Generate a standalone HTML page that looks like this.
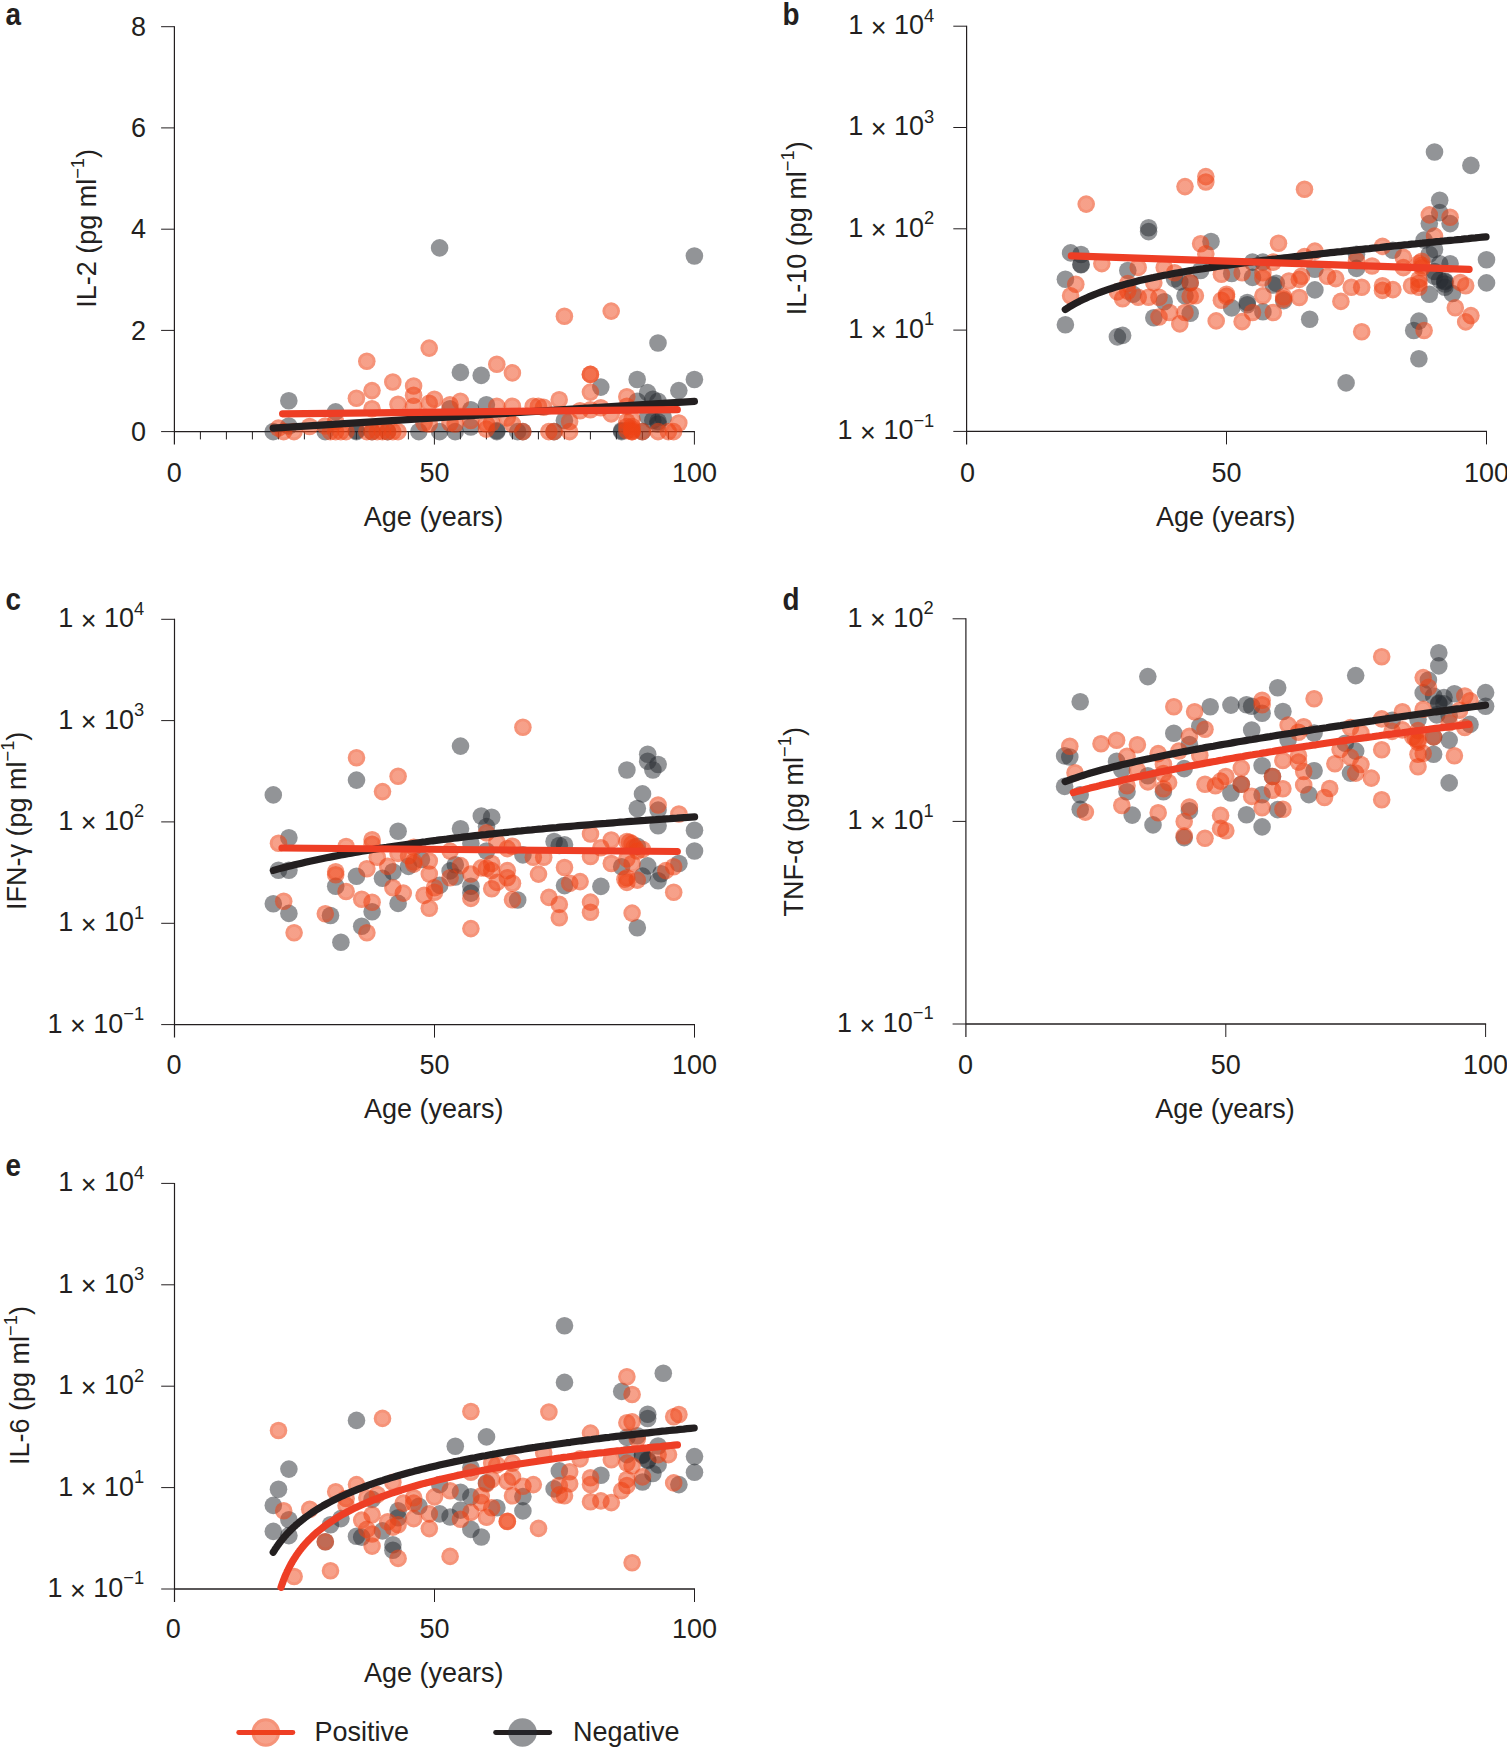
<!DOCTYPE html>
<html lang="en"><head><meta charset="utf-8"><title>Figure</title>
<style>html,body{margin:0;padding:0;background:#fff}svg{display:block}</style></head>
<body>
<svg width="1507" height="1747" viewBox="0 0 1507 1747" style="display:block">
<rect width="1507" height="1747" fill="#fff"/>
<defs><radialGradient id="og" cx="0.5" cy="0.5" r="0.5"><stop offset="0" stop-color="rgb(238,66,20)" stop-opacity="0.5"/><stop offset="0.62" stop-color="rgb(238,66,20)" stop-opacity="0.5"/><stop offset="0.70" stop-color="rgb(238,66,20)" stop-opacity="0.57"/><stop offset="1" stop-color="rgb(238,66,20)" stop-opacity="0.57"/></radialGradient><radialGradient id="og2" cx="0.5" cy="0.5" r="0.5"><stop offset="0" stop-color="rgb(238,66,20)" stop-opacity="0.5"/><stop offset="0.75" stop-color="rgb(238,66,20)" stop-opacity="0.5"/><stop offset="0.80" stop-color="rgb(238,66,20)" stop-opacity="0.57"/><stop offset="1" stop-color="rgb(238,66,20)" stop-opacity="0.57"/></radialGradient></defs>
<g font-family='"Liberation Sans", sans-serif' font-size="28.0" fill="#231f20">
<g stroke="#231f20" stroke-width="1" fill="none">
<path d="M174.4 26.2 V444.6" stroke-width="1.2"/>
<path d="M174.4 431.6 H694.9" stroke-width="1.4"/>
<path d="M161.1 431.6 H174.4"/>
<path d="M161.1 26.7 H174.4"/>
<path d="M161.1 127.9 H174.4"/>
<path d="M161.1 229.2 H174.4"/>
<path d="M161.1 330.4 H174.4"/>
<path d="M434.4 431.6 V444.6"/>
<path d="M694.4 431.6 V444.6"/>
<path d="M200.4 431.6 V439.4"/>
<path d="M226.4 431.6 V439.4"/>
<path d="M252.4 431.6 V439.4"/>
<path d="M278.4 431.6 V439.4"/>
<path d="M304.4 431.6 V439.4"/>
<path d="M330.4 431.6 V439.4"/>
<path d="M356.4 431.6 V439.4"/>
<path d="M382.4 431.6 V439.4"/>
<path d="M408.4 431.6 V439.4"/>
<path d="M460.4 431.6 V439.4"/>
<path d="M486.4 431.6 V439.4"/>
<path d="M512.4 431.6 V439.4"/>
<path d="M538.4 431.6 V439.4"/>
<path d="M564.4 431.6 V439.4"/>
<path d="M590.4 431.6 V439.4"/>
<path d="M616.4 431.6 V439.4"/>
<path d="M642.4 431.6 V439.4"/>
<path d="M668.4 431.6 V439.4"/>
</g>
<text transform="translate(174.2 482.4) scale(0.964 1)" text-anchor="middle">0</text>
<text transform="translate(434.4 482.4) scale(0.964 1)" text-anchor="middle">50</text>
<text transform="translate(694.4 482.4) scale(0.964 1)" text-anchor="middle">100</text>
<text transform="translate(433.6 526.2) scale(0.964 1)" text-anchor="middle">Age (years)</text>
<text transform="translate(146.1 35.9) scale(0.964 1)" text-anchor="end">8</text>
<text transform="translate(146.1 137.1) scale(0.964 1)" text-anchor="end">6</text>
<text transform="translate(146.1 238.3) scale(0.964 1)" text-anchor="end">4</text>
<text transform="translate(146.1 339.6) scale(0.964 1)" text-anchor="end">2</text>
<text transform="translate(146.1 440.8) scale(0.964 1)" text-anchor="end">0</text>
<text transform="translate(96.2 228.4) rotate(-90) scale(0.964 1)" text-anchor="middle">IL-2 (pg ml<tspan font-size="19.0" dy="-12">−1</tspan><tspan dy="12">)</tspan></text>
<text transform="translate(5.5 24.5) scale(0.87 1)" font-weight="bold" font-size="32">a</text>
<g>
<circle cx="439.6" cy="247.9" r="8.8" fill="rgb(38,42,48)" fill-opacity="0.5"/>
<circle cx="694.4" cy="256" r="8.8" fill="rgb(38,42,48)" fill-opacity="0.5"/>
<circle cx="658" cy="343" r="8.8" fill="rgb(38,42,48)" fill-opacity="0.5"/>
<circle cx="460.4" cy="372.4" r="8.8" fill="rgb(38,42,48)" fill-opacity="0.5"/>
<circle cx="481.2" cy="375.4" r="8.8" fill="rgb(38,42,48)" fill-opacity="0.5"/>
<circle cx="600.8" cy="387.1" r="8.8" fill="rgb(38,42,48)" fill-opacity="0.5"/>
<circle cx="637.2" cy="379.5" r="8.8" fill="rgb(38,42,48)" fill-opacity="0.5"/>
<circle cx="694.4" cy="379.5" r="8.8" fill="rgb(38,42,48)" fill-opacity="0.5"/>
<circle cx="678.8" cy="390.6" r="8.8" fill="rgb(38,42,48)" fill-opacity="0.5"/>
<circle cx="647.6" cy="392.6" r="8.8" fill="rgb(38,42,48)" fill-opacity="0.5"/>
<circle cx="288.8" cy="400.7" r="8.8" fill="rgb(38,42,48)" fill-opacity="0.5"/>
<circle cx="335.6" cy="411.9" r="8.8" fill="rgb(38,42,48)" fill-opacity="0.5"/>
<circle cx="288.8" cy="426" r="8.8" fill="rgb(38,42,48)" fill-opacity="0.5"/>
<circle cx="273.2" cy="431.6" r="8.8" fill="rgb(38,42,48)" fill-opacity="0.5"/>
<circle cx="325.2" cy="431.6" r="8.8" fill="rgb(38,42,48)" fill-opacity="0.5"/>
<circle cx="356.4" cy="431.6" r="8.8" fill="rgb(38,42,48)" fill-opacity="0.5"/>
<circle cx="356.4" cy="430.6" r="8.8" fill="rgb(38,42,48)" fill-opacity="0.5"/>
<circle cx="372" cy="431.6" r="8.8" fill="rgb(38,42,48)" fill-opacity="0.5"/>
<circle cx="418.8" cy="431.6" r="8.8" fill="rgb(38,42,48)" fill-opacity="0.5"/>
<circle cx="439.6" cy="431.6" r="8.8" fill="rgb(38,42,48)" fill-opacity="0.5"/>
<circle cx="455.2" cy="431.6" r="8.8" fill="rgb(38,42,48)" fill-opacity="0.5"/>
<circle cx="470.8" cy="427" r="8.8" fill="rgb(38,42,48)" fill-opacity="0.5"/>
<circle cx="496.8" cy="431.6" r="8.8" fill="rgb(38,42,48)" fill-opacity="0.5"/>
<circle cx="496.8" cy="430.6" r="8.8" fill="rgb(38,42,48)" fill-opacity="0.5"/>
<circle cx="517.6" cy="431.6" r="8.8" fill="rgb(38,42,48)" fill-opacity="0.5"/>
<circle cx="486.4" cy="404.8" r="8.8" fill="rgb(38,42,48)" fill-opacity="0.5"/>
<circle cx="450" cy="408.8" r="8.8" fill="rgb(38,42,48)" fill-opacity="0.5"/>
<circle cx="470.8" cy="409.8" r="8.8" fill="rgb(38,42,48)" fill-opacity="0.5"/>
<circle cx="637.2" cy="401.2" r="8.8" fill="rgb(38,42,48)" fill-opacity="0.5"/>
<circle cx="652.8" cy="399.2" r="8.8" fill="rgb(38,42,48)" fill-opacity="0.5"/>
<circle cx="658" cy="401.2" r="8.8" fill="rgb(38,42,48)" fill-opacity="0.5"/>
<circle cx="658" cy="421.5" r="8.8" fill="rgb(38,42,48)" fill-opacity="0.5"/>
<circle cx="652.8" cy="420.5" r="8.8" fill="rgb(38,42,48)" fill-opacity="0.5"/>
<circle cx="658" cy="424" r="8.8" fill="rgb(38,42,48)" fill-opacity="0.5"/>
<circle cx="663.2" cy="417.4" r="8.8" fill="rgb(38,42,48)" fill-opacity="0.5"/>
<circle cx="647.6" cy="416.4" r="8.8" fill="rgb(38,42,48)" fill-opacity="0.5"/>
<circle cx="621.6" cy="431.6" r="8.8" fill="rgb(38,42,48)" fill-opacity="0.5"/>
<circle cx="621.6" cy="430.6" r="8.8" fill="rgb(38,42,48)" fill-opacity="0.5"/>
<circle cx="564.4" cy="420.5" r="8.8" fill="rgb(38,42,48)" fill-opacity="0.5"/>
<circle cx="554" cy="431.6" r="8.8" fill="rgb(38,42,48)" fill-opacity="0.5"/>
<circle cx="642.4" cy="431.6" r="8.8" fill="rgb(38,42,48)" fill-opacity="0.5"/>
<circle cx="522.8" cy="431.6" r="8.8" fill="rgb(38,42,48)" fill-opacity="0.5"/>
<circle cx="387.6" cy="431.6" r="8.8" fill="rgb(38,42,48)" fill-opacity="0.5"/>
<circle cx="564.4" cy="316.2" r="8.8" fill="url(#og)"/>
<circle cx="611.2" cy="311.1" r="8.8" fill="url(#og)"/>
<circle cx="429.2" cy="348.1" r="8.8" fill="url(#og)"/>
<circle cx="366.8" cy="361.2" r="8.8" fill="url(#og)"/>
<circle cx="496.8" cy="364.3" r="8.8" fill="url(#og)"/>
<circle cx="512.4" cy="372.9" r="8.8" fill="url(#og)"/>
<circle cx="590.4" cy="374.4" r="8.8" fill="url(#og)"/>
<circle cx="590.4" cy="374.4" r="8.8" fill="url(#og)"/>
<circle cx="590.4" cy="392.1" r="8.8" fill="url(#og)"/>
<circle cx="559.2" cy="399.7" r="8.8" fill="url(#og)"/>
<circle cx="626.8" cy="396.7" r="8.8" fill="url(#og)"/>
<circle cx="356.4" cy="398.2" r="8.8" fill="url(#og)"/>
<circle cx="372" cy="390.6" r="8.8" fill="url(#og)"/>
<circle cx="392.8" cy="382" r="8.8" fill="url(#og)"/>
<circle cx="372" cy="408.8" r="8.8" fill="url(#og)"/>
<circle cx="398" cy="404.3" r="8.8" fill="url(#og)"/>
<circle cx="413.6" cy="386" r="8.8" fill="url(#og)"/>
<circle cx="413.6" cy="395.2" r="8.8" fill="url(#og)"/>
<circle cx="413.6" cy="406.3" r="8.8" fill="url(#og)"/>
<circle cx="434.4" cy="399.2" r="8.8" fill="url(#og)"/>
<circle cx="429.2" cy="403.3" r="8.8" fill="url(#og)"/>
<circle cx="450" cy="404.8" r="8.8" fill="url(#og)"/>
<circle cx="460.4" cy="401.2" r="8.8" fill="url(#og)"/>
<circle cx="496.8" cy="406.3" r="8.8" fill="url(#og)"/>
<circle cx="512.4" cy="406.3" r="8.8" fill="url(#og)"/>
<circle cx="533.2" cy="406.3" r="8.8" fill="url(#og)"/>
<circle cx="538.4" cy="406.3" r="8.8" fill="url(#og)"/>
<circle cx="543.6" cy="407.3" r="8.8" fill="url(#og)"/>
<circle cx="580" cy="410.8" r="8.8" fill="url(#og)"/>
<circle cx="590.4" cy="409.8" r="8.8" fill="url(#og)"/>
<circle cx="600.8" cy="407.8" r="8.8" fill="url(#og)"/>
<circle cx="611.2" cy="413.9" r="8.8" fill="url(#og)"/>
<circle cx="626.8" cy="406.3" r="8.8" fill="url(#og)"/>
<circle cx="678.8" cy="423" r="8.8" fill="url(#og)"/>
<circle cx="569.6" cy="431.6" r="8.8" fill="url(#og)"/>
<circle cx="569.6" cy="421.5" r="8.8" fill="url(#og)"/>
<circle cx="632" cy="431.6" r="8.8" fill="url(#og)"/>
<circle cx="632" cy="430.6" r="8.8" fill="url(#og)"/>
<circle cx="632" cy="431.6" r="8.8" fill="url(#og)"/>
<circle cx="626.8" cy="421.5" r="8.8" fill="url(#og)"/>
<circle cx="632" cy="419.5" r="8.8" fill="url(#og)"/>
<circle cx="658" cy="431.6" r="8.8" fill="url(#og)"/>
<circle cx="668.4" cy="431.6" r="8.8" fill="url(#og)"/>
<circle cx="673.6" cy="431.6" r="8.8" fill="url(#og)"/>
<circle cx="642.4" cy="431.6" r="8.8" fill="url(#og)"/>
<circle cx="278.4" cy="428.1" r="8.8" fill="url(#og)"/>
<circle cx="283.6" cy="431.6" r="8.8" fill="url(#og)"/>
<circle cx="294" cy="431.6" r="8.8" fill="url(#og)"/>
<circle cx="309.6" cy="426.5" r="8.8" fill="url(#og)"/>
<circle cx="325.2" cy="426" r="8.8" fill="url(#og)"/>
<circle cx="330.4" cy="431.6" r="8.8" fill="url(#og)"/>
<circle cx="335.6" cy="431.6" r="8.8" fill="url(#og)"/>
<circle cx="340.8" cy="431.6" r="8.8" fill="url(#og)"/>
<circle cx="346" cy="431.6" r="8.8" fill="url(#og)"/>
<circle cx="335.6" cy="421.5" r="8.8" fill="url(#og)"/>
<circle cx="366.8" cy="431.6" r="8.8" fill="url(#og)"/>
<circle cx="372" cy="431.6" r="8.8" fill="url(#og)"/>
<circle cx="377.2" cy="431.6" r="8.8" fill="url(#og)"/>
<circle cx="382.4" cy="431.6" r="8.8" fill="url(#og)"/>
<circle cx="387.6" cy="431.6" r="8.8" fill="url(#og)"/>
<circle cx="392.8" cy="431.6" r="8.8" fill="url(#og)"/>
<circle cx="398" cy="431.6" r="8.8" fill="url(#og)"/>
<circle cx="424" cy="423" r="8.8" fill="url(#og)"/>
<circle cx="429.2" cy="424" r="8.8" fill="url(#og)"/>
<circle cx="450" cy="423" r="8.8" fill="url(#og)"/>
<circle cx="455.2" cy="424" r="8.8" fill="url(#og)"/>
<circle cx="470.8" cy="420.5" r="8.8" fill="url(#og)"/>
<circle cx="486.4" cy="424" r="8.8" fill="url(#og)"/>
<circle cx="486.4" cy="429.1" r="8.8" fill="url(#og)"/>
<circle cx="491.6" cy="423" r="8.8" fill="url(#og)"/>
<circle cx="507.2" cy="417.9" r="8.8" fill="url(#og)"/>
<circle cx="512.4" cy="424" r="8.8" fill="url(#og)"/>
<circle cx="522.8" cy="431.6" r="8.8" fill="url(#og)"/>
<circle cx="548.8" cy="431.6" r="8.8" fill="url(#og)"/>
<circle cx="554" cy="431.6" r="8.8" fill="url(#og)"/>
<circle cx="632" cy="429.1" r="8.8" fill="url(#og)"/>
<circle cx="632" cy="426.5" r="8.8" fill="url(#og)"/>
<circle cx="626.8" cy="426.5" r="8.8" fill="url(#og)"/>
<circle cx="626.8" cy="430.6" r="8.8" fill="url(#og)"/>
</g>
<clipPath id="cla"><rect x="0" y="6.7" width="1507" height="430.9"/></clipPath>
<path d="M273.2 428.1 L694.4 401.4" fill="none" stroke="#231f20" stroke-width="7.2" stroke-linecap="round" stroke-linejoin="round" clip-path="url(#cla)"/>
<path d="M282.6 413.8 L677.3 409.7" fill="none" stroke="#ee3e25" stroke-width="7.2" stroke-linecap="round" stroke-linejoin="round" clip-path="url(#cla)"/>
<g stroke="#231f20" stroke-width="1" fill="none">
<path d="M966.6 25.7 V444.4" stroke-width="1.2"/>
<path d="M966.6 431.4 H1487" stroke-width="1.4"/>
<path d="M953.3 431.4 H966.6"/>
<path d="M953.3 26.2 H966.6"/>
<path d="M953.3 127.5 H966.6"/>
<path d="M953.3 228.8 H966.6"/>
<path d="M953.3 330.1 H966.6"/>
<path d="M1226.5 431.4 V444.4"/>
<path d="M1486.5 431.4 V444.4"/>
</g>
<text transform="translate(967.4 482.4) scale(0.964 1)" text-anchor="middle">0</text>
<text transform="translate(1226.5 482.4) scale(0.964 1)" text-anchor="middle">50</text>
<text transform="translate(1486.5 482.4) scale(0.964 1)" text-anchor="middle">100</text>
<text transform="translate(1225.8 526.2) scale(0.964 1)" text-anchor="middle">Age (years)</text>
<text transform="translate(934.3 34.1) scale(0.964 1)" text-anchor="end">1 <tspan dy="2.6">×</tspan><tspan dy="-2.6"> 10</tspan><tspan font-size="19.0" dy="-12.6">4</tspan></text>
<text transform="translate(934.3 135.4) scale(0.964 1)" text-anchor="end">1 <tspan dy="2.6">×</tspan><tspan dy="-2.6"> 10</tspan><tspan font-size="19.0" dy="-12.6">3</tspan></text>
<text transform="translate(934.3 236.7) scale(0.964 1)" text-anchor="end">1 <tspan dy="2.6">×</tspan><tspan dy="-2.6"> 10</tspan><tspan font-size="19.0" dy="-12.6">2</tspan></text>
<text transform="translate(934.3 338) scale(0.964 1)" text-anchor="end">1 <tspan dy="2.6">×</tspan><tspan dy="-2.6"> 10</tspan><tspan font-size="19.0" dy="-12.6">1</tspan></text>
<text transform="translate(934.3 439.3) scale(0.964 1)" text-anchor="end">1 <tspan dy="2.6">×</tspan><tspan dy="-2.6"> 10</tspan><tspan font-size="19.0" dy="-12.6">−1</tspan></text>
<text transform="translate(806.1 228.2) rotate(-90) scale(0.964 1)" text-anchor="middle">IL-10 (pg ml<tspan font-size="19.0" dy="-12">−1</tspan><tspan dy="12">)</tspan></text>
<text transform="translate(782.5 24.5) scale(0.87 1)" font-weight="bold" font-size="32">b</text>
<g>
<circle cx="1070.6" cy="252.9" r="8.8" fill="rgb(38,42,48)" fill-opacity="0.5"/>
<circle cx="1081" cy="254.5" r="8.8" fill="rgb(38,42,48)" fill-opacity="0.5"/>
<circle cx="1081" cy="264.4" r="8.8" fill="rgb(38,42,48)" fill-opacity="0.5"/>
<circle cx="1081" cy="264.8" r="8.8" fill="rgb(38,42,48)" fill-opacity="0.5"/>
<circle cx="1065.4" cy="279.2" r="8.8" fill="rgb(38,42,48)" fill-opacity="0.5"/>
<circle cx="1065.4" cy="324.7" r="8.8" fill="rgb(38,42,48)" fill-opacity="0.5"/>
<circle cx="1117.4" cy="336.9" r="8.8" fill="rgb(38,42,48)" fill-opacity="0.5"/>
<circle cx="1122.6" cy="335.4" r="8.8" fill="rgb(38,42,48)" fill-opacity="0.5"/>
<circle cx="1148.6" cy="227.8" r="8.8" fill="rgb(38,42,48)" fill-opacity="0.5"/>
<circle cx="1148.6" cy="231.6" r="8.8" fill="rgb(38,42,48)" fill-opacity="0.5"/>
<circle cx="1211" cy="241.5" r="8.8" fill="rgb(38,42,48)" fill-opacity="0.5"/>
<circle cx="1127.8" cy="270.5" r="8.8" fill="rgb(38,42,48)" fill-opacity="0.5"/>
<circle cx="1200.6" cy="270.5" r="8.8" fill="rgb(38,42,48)" fill-opacity="0.5"/>
<circle cx="1174.6" cy="278.9" r="8.8" fill="rgb(38,42,48)" fill-opacity="0.5"/>
<circle cx="1179.8" cy="281.9" r="8.8" fill="rgb(38,42,48)" fill-opacity="0.5"/>
<circle cx="1190.2" cy="282.7" r="8.8" fill="rgb(38,42,48)" fill-opacity="0.5"/>
<circle cx="1185" cy="295.7" r="8.8" fill="rgb(38,42,48)" fill-opacity="0.5"/>
<circle cx="1164.2" cy="301.8" r="8.8" fill="rgb(38,42,48)" fill-opacity="0.5"/>
<circle cx="1133" cy="294.2" r="8.8" fill="rgb(38,42,48)" fill-opacity="0.5"/>
<circle cx="1153.8" cy="317.8" r="8.8" fill="rgb(38,42,48)" fill-opacity="0.5"/>
<circle cx="1190.2" cy="313.2" r="8.8" fill="rgb(38,42,48)" fill-opacity="0.5"/>
<circle cx="1231.7" cy="273.5" r="8.8" fill="rgb(38,42,48)" fill-opacity="0.5"/>
<circle cx="1231.7" cy="307.9" r="8.8" fill="rgb(38,42,48)" fill-opacity="0.5"/>
<circle cx="1247.3" cy="302.5" r="8.8" fill="rgb(38,42,48)" fill-opacity="0.5"/>
<circle cx="1247.3" cy="304.8" r="8.8" fill="rgb(38,42,48)" fill-opacity="0.5"/>
<circle cx="1252.5" cy="277.4" r="8.8" fill="rgb(38,42,48)" fill-opacity="0.5"/>
<circle cx="1262.9" cy="311.7" r="8.8" fill="rgb(38,42,48)" fill-opacity="0.5"/>
<circle cx="1252.5" cy="262.1" r="8.8" fill="rgb(38,42,48)" fill-opacity="0.5"/>
<circle cx="1262.9" cy="262.1" r="8.8" fill="rgb(38,42,48)" fill-opacity="0.5"/>
<circle cx="1273.3" cy="285" r="8.8" fill="rgb(38,42,48)" fill-opacity="0.5"/>
<circle cx="1434.5" cy="152" r="8.8" fill="rgb(38,42,48)" fill-opacity="0.5"/>
<circle cx="1470.9" cy="165.4" r="8.8" fill="rgb(38,42,48)" fill-opacity="0.5"/>
<circle cx="1439.7" cy="200.3" r="8.8" fill="rgb(38,42,48)" fill-opacity="0.5"/>
<circle cx="1439.7" cy="212.6" r="8.8" fill="rgb(38,42,48)" fill-opacity="0.5"/>
<circle cx="1429.3" cy="223.6" r="8.8" fill="rgb(38,42,48)" fill-opacity="0.5"/>
<circle cx="1450.1" cy="223.6" r="8.8" fill="rgb(38,42,48)" fill-opacity="0.5"/>
<circle cx="1424.1" cy="240.1" r="8.8" fill="rgb(38,42,48)" fill-opacity="0.5"/>
<circle cx="1434.5" cy="249.5" r="8.8" fill="rgb(38,42,48)" fill-opacity="0.5"/>
<circle cx="1429.3" cy="254.2" r="8.8" fill="rgb(38,42,48)" fill-opacity="0.5"/>
<circle cx="1450.1" cy="263.7" r="8.8" fill="rgb(38,42,48)" fill-opacity="0.5"/>
<circle cx="1439.7" cy="263.7" r="8.8" fill="rgb(38,42,48)" fill-opacity="0.5"/>
<circle cx="1486.5" cy="259.7" r="8.8" fill="rgb(38,42,48)" fill-opacity="0.5"/>
<circle cx="1486.5" cy="282.9" r="8.8" fill="rgb(38,42,48)" fill-opacity="0.5"/>
<circle cx="1434.5" cy="271.5" r="8.8" fill="rgb(38,42,48)" fill-opacity="0.5"/>
<circle cx="1444.9" cy="281" r="8.8" fill="rgb(38,42,48)" fill-opacity="0.5"/>
<circle cx="1444.9" cy="281.8" r="8.8" fill="rgb(38,42,48)" fill-opacity="0.5"/>
<circle cx="1444.9" cy="287.3" r="8.8" fill="rgb(38,42,48)" fill-opacity="0.5"/>
<circle cx="1452.4" cy="293.5" r="8.8" fill="rgb(38,42,48)" fill-opacity="0.5"/>
<circle cx="1429.3" cy="294.3" r="8.8" fill="rgb(38,42,48)" fill-opacity="0.5"/>
<circle cx="1434.5" cy="276.2" r="8.8" fill="rgb(38,42,48)" fill-opacity="0.5"/>
<circle cx="1418.9" cy="321.1" r="8.8" fill="rgb(38,42,48)" fill-opacity="0.5"/>
<circle cx="1413.7" cy="330.5" r="8.8" fill="rgb(38,42,48)" fill-opacity="0.5"/>
<circle cx="1418.9" cy="358.8" r="8.8" fill="rgb(38,42,48)" fill-opacity="0.5"/>
<circle cx="1346.1" cy="382.9" r="8.8" fill="rgb(38,42,48)" fill-opacity="0.5"/>
<circle cx="1309.7" cy="319.2" r="8.8" fill="rgb(38,42,48)" fill-opacity="0.5"/>
<circle cx="1314.9" cy="289.9" r="8.8" fill="rgb(38,42,48)" fill-opacity="0.5"/>
<circle cx="1356.5" cy="254.2" r="8.8" fill="rgb(38,42,48)" fill-opacity="0.5"/>
<circle cx="1356.5" cy="268.4" r="8.8" fill="rgb(38,42,48)" fill-opacity="0.5"/>
<circle cx="1392.9" cy="250.3" r="8.8" fill="rgb(38,42,48)" fill-opacity="0.5"/>
<circle cx="1314.9" cy="269.2" r="8.8" fill="rgb(38,42,48)" fill-opacity="0.5"/>
<circle cx="1276.3" cy="283.3" r="8.8" fill="rgb(38,42,48)" fill-opacity="0.5"/>
<circle cx="1283.7" cy="300.6" r="8.8" fill="rgb(38,42,48)" fill-opacity="0.5"/>
<circle cx="1444.9" cy="284" r="8.8" fill="rgb(38,42,48)" fill-opacity="0.5"/>
<circle cx="1439.7" cy="280" r="8.8" fill="rgb(38,42,48)" fill-opacity="0.5"/>
<circle cx="1086.2" cy="204.1" r="8.8" fill="url(#og)"/>
<circle cx="1185" cy="186.6" r="8.8" fill="url(#og)"/>
<circle cx="1205.8" cy="176.6" r="8.8" fill="url(#og)"/>
<circle cx="1205.8" cy="182" r="8.8" fill="url(#og)"/>
<circle cx="1200.6" cy="243.8" r="8.8" fill="url(#og)"/>
<circle cx="1205.8" cy="253.7" r="8.8" fill="url(#og)"/>
<circle cx="1101.8" cy="263.6" r="8.8" fill="url(#og)"/>
<circle cx="1138.2" cy="267.4" r="8.8" fill="url(#og)"/>
<circle cx="1164.2" cy="267.4" r="8.8" fill="url(#og)"/>
<circle cx="1174.6" cy="272.8" r="8.8" fill="url(#og)"/>
<circle cx="1075.8" cy="284.2" r="8.8" fill="url(#og)"/>
<circle cx="1070.6" cy="295.7" r="8.8" fill="url(#og)"/>
<circle cx="1127.8" cy="283.5" r="8.8" fill="url(#og)"/>
<circle cx="1153.8" cy="282.7" r="8.8" fill="url(#og)"/>
<circle cx="1117.4" cy="291.9" r="8.8" fill="url(#og)"/>
<circle cx="1127.8" cy="291.1" r="8.8" fill="url(#og)"/>
<circle cx="1122.6" cy="298.7" r="8.8" fill="url(#og)"/>
<circle cx="1138.2" cy="297.2" r="8.8" fill="url(#og)"/>
<circle cx="1148.6" cy="297.2" r="8.8" fill="url(#og)"/>
<circle cx="1159" cy="297.2" r="8.8" fill="url(#og)"/>
<circle cx="1169.4" cy="312.5" r="8.8" fill="url(#og)"/>
<circle cx="1159" cy="317" r="8.8" fill="url(#og)"/>
<circle cx="1179.8" cy="323.9" r="8.8" fill="url(#og)"/>
<circle cx="1185" cy="312.5" r="8.8" fill="url(#og)"/>
<circle cx="1190.2" cy="282.7" r="8.8" fill="url(#og)"/>
<circle cx="1195.4" cy="295.7" r="8.8" fill="url(#og)"/>
<circle cx="1190.2" cy="296.4" r="8.8" fill="url(#og)"/>
<circle cx="1221.4" cy="274.3" r="8.8" fill="url(#og)"/>
<circle cx="1242.1" cy="272.8" r="8.8" fill="url(#og)"/>
<circle cx="1226.5" cy="294.2" r="8.8" fill="url(#og)"/>
<circle cx="1221.4" cy="300.3" r="8.8" fill="url(#og)"/>
<circle cx="1226.5" cy="296.4" r="8.8" fill="url(#og)"/>
<circle cx="1216.2" cy="320.9" r="8.8" fill="url(#og)"/>
<circle cx="1242.1" cy="321.6" r="8.8" fill="url(#og)"/>
<circle cx="1252.5" cy="312.5" r="8.8" fill="url(#og)"/>
<circle cx="1262.9" cy="278.1" r="8.8" fill="url(#og)"/>
<circle cx="1262.9" cy="295.7" r="8.8" fill="url(#og)"/>
<circle cx="1273.3" cy="312.5" r="8.8" fill="url(#og)"/>
<circle cx="1273.3" cy="262.1" r="8.8" fill="url(#og)"/>
<circle cx="1262.9" cy="272.8" r="8.8" fill="url(#og)"/>
<circle cx="1304.5" cy="189.3" r="8.8" fill="url(#og)"/>
<circle cx="1429.3" cy="214.9" r="8.8" fill="url(#og)"/>
<circle cx="1450.1" cy="217.3" r="8.8" fill="url(#og)"/>
<circle cx="1434.5" cy="236.1" r="8.8" fill="url(#og)"/>
<circle cx="1278.5" cy="243.2" r="8.8" fill="url(#og)"/>
<circle cx="1314.9" cy="251.1" r="8.8" fill="url(#og)"/>
<circle cx="1304.5" cy="256.6" r="8.8" fill="url(#og)"/>
<circle cx="1382.5" cy="246.4" r="8.8" fill="url(#og)"/>
<circle cx="1403.3" cy="257.4" r="8.8" fill="url(#og)"/>
<circle cx="1356.5" cy="260.5" r="8.8" fill="url(#og)"/>
<circle cx="1372.1" cy="266" r="8.8" fill="url(#og)"/>
<circle cx="1403.3" cy="267.6" r="8.8" fill="url(#og)"/>
<circle cx="1421.8" cy="261.3" r="8.8" fill="url(#og)"/>
<circle cx="1421.8" cy="265.2" r="8.8" fill="url(#og)"/>
<circle cx="1418.9" cy="279.4" r="8.8" fill="url(#og)"/>
<circle cx="1418.9" cy="287.3" r="8.8" fill="url(#og)"/>
<circle cx="1411.5" cy="285.7" r="8.8" fill="url(#og)"/>
<circle cx="1460.5" cy="282.5" r="8.8" fill="url(#og)"/>
<circle cx="1465.7" cy="285.7" r="8.8" fill="url(#og)"/>
<circle cx="1455.3" cy="307.7" r="8.8" fill="url(#og)"/>
<circle cx="1470.9" cy="315.6" r="8.8" fill="url(#og)"/>
<circle cx="1465.7" cy="321.9" r="8.8" fill="url(#og)"/>
<circle cx="1424.1" cy="330.5" r="8.8" fill="url(#og)"/>
<circle cx="1361.7" cy="331.8" r="8.8" fill="url(#og)"/>
<circle cx="1340.9" cy="301.4" r="8.8" fill="url(#og)"/>
<circle cx="1351.3" cy="287.3" r="8.8" fill="url(#og)"/>
<circle cx="1361.7" cy="287.3" r="8.8" fill="url(#og)"/>
<circle cx="1382.5" cy="285.7" r="8.8" fill="url(#og)"/>
<circle cx="1382.5" cy="290.4" r="8.8" fill="url(#og)"/>
<circle cx="1392.9" cy="289.6" r="8.8" fill="url(#og)"/>
<circle cx="1335.7" cy="278.6" r="8.8" fill="url(#og)"/>
<circle cx="1327.4" cy="276.2" r="8.8" fill="url(#og)"/>
<circle cx="1301.5" cy="276.2" r="8.8" fill="url(#og)"/>
<circle cx="1299.3" cy="279.4" r="8.8" fill="url(#og)"/>
<circle cx="1288.9" cy="281" r="8.8" fill="url(#og)"/>
<circle cx="1299.3" cy="297.5" r="8.8" fill="url(#og)"/>
<circle cx="1283.7" cy="296.7" r="8.8" fill="url(#og)"/>
<circle cx="1283.7" cy="299.1" r="8.8" fill="url(#og)"/>
<circle cx="1418.9" cy="263.4" r="8.8" fill="url(#og)"/>
<circle cx="1421.9" cy="267.8" r="8.8" fill="url(#og)"/>
<circle cx="1418.9" cy="283.2" r="8.8" fill="url(#og)"/>
</g>
<clipPath id="clb"><rect x="0" y="6.2" width="1507" height="431.2"/></clipPath>
<path d="M1065.3 309.5 L1068.8 307.2 L1072.4 305.1 L1075.9 303.2 L1079.4 301.3 L1083 299.6 L1086.5 297.9 L1090 296.3 L1093.6 294.9 L1097.1 293.5 L1100.7 292.1 L1104.2 290.8 L1107.7 289.6 L1111.3 288.5 L1114.8 287.3 L1118.3 286.3 L1121.9 285.2 L1125.4 284.3 L1128.9 283.3 L1132.5 282.4 L1136 281.5 L1139.5 280.6 L1143.1 279.8 L1146.6 279 L1150.1 278.2 L1153.7 277.5 L1157.2 276.7 L1160.8 276 L1164.3 275.3 L1167.8 274.7 L1171.4 274 L1174.9 273.3 L1178.4 272.7 L1182 272.1 L1185.5 271.5 L1189 270.9 L1192.6 270.3 L1196.1 269.8 L1199.6 269.2 L1203.2 268.7 L1206.7 268.1 L1210.2 267.6 L1213.8 267.1 L1217.3 266.5 L1220.9 266 L1224.4 265.5 L1227.9 265.1 L1231.5 264.6 L1235 264.1 L1238.5 263.6 L1242.1 263.1 L1245.6 262.7 L1249.1 262.2 L1252.7 261.8 L1256.2 261.3 L1259.7 260.9 L1263.3 260.4 L1266.8 260 L1270.3 259.6 L1273.9 259.2 L1277.4 258.7 L1281 258.3 L1284.5 257.9 L1288 257.5 L1291.6 257.1 L1295.1 256.7 L1298.6 256.3 L1302.2 255.9 L1305.7 255.5 L1309.2 255.1 L1312.8 254.7 L1316.3 254.3 L1319.8 253.9 L1323.4 253.5 L1326.9 253.1 L1330.4 252.7 L1334 252.3 L1337.5 251.9 L1341.1 251.6 L1344.6 251.2 L1348.1 250.8 L1351.7 250.4 L1355.2 250.1 L1358.7 249.7 L1362.3 249.3 L1365.8 248.9 L1369.3 248.6 L1372.9 248.2 L1376.4 247.8 L1379.9 247.5 L1383.5 247.1 L1387 246.7 L1390.5 246.4 L1394.1 246 L1397.6 245.7 L1401.2 245.3 L1404.7 244.9 L1408.2 244.6 L1411.8 244.2 L1415.3 243.9 L1418.8 243.5 L1422.4 243.2 L1425.9 242.8 L1429.4 242.4 L1433 242.1 L1436.5 241.7 L1440 241.4 L1443.6 241 L1447.1 240.7 L1450.6 240.3 L1454.2 240 L1457.7 239.6 L1461.3 239.3 L1464.8 238.9 L1468.3 238.6 L1471.9 238.2 L1475.4 237.9 L1478.9 237.5 L1482.5 237.2 L1486 236.9" fill="none" stroke="#231f20" stroke-width="7.2" stroke-linecap="round" stroke-linejoin="round" clip-path="url(#clb)"/>
<path d="M1071.3 255.9 L1469.1 269.3" fill="none" stroke="#ee3e25" stroke-width="7.2" stroke-linecap="round" stroke-linejoin="round" clip-path="url(#clb)"/>
<g stroke="#231f20" stroke-width="1" fill="none">
<path d="M174.5 618.8 V1037.6" stroke-width="1.2"/>
<path d="M174.5 1024.6 H695" stroke-width="1.4"/>
<path d="M161.2 1024.6 H174.5"/>
<path d="M161.2 619.3 H174.5"/>
<path d="M161.2 720.6 H174.5"/>
<path d="M161.2 821.9 H174.5"/>
<path d="M161.2 923.3 H174.5"/>
<path d="M434.5 1024.6 V1037.6"/>
<path d="M694.5 1024.6 V1037.6"/>
</g>
<text transform="translate(174 1074.2) scale(0.964 1)" text-anchor="middle">0</text>
<text transform="translate(434.5 1074.2) scale(0.964 1)" text-anchor="middle">50</text>
<text transform="translate(694.5 1074.2) scale(0.964 1)" text-anchor="middle">100</text>
<text transform="translate(433.7 1118) scale(0.964 1)" text-anchor="middle">Age (years)</text>
<text transform="translate(144.2 627.2) scale(0.964 1)" text-anchor="end">1 <tspan dy="2.6">×</tspan><tspan dy="-2.6"> 10</tspan><tspan font-size="19.0" dy="-12.6">4</tspan></text>
<text transform="translate(144.2 728.5) scale(0.964 1)" text-anchor="end">1 <tspan dy="2.6">×</tspan><tspan dy="-2.6"> 10</tspan><tspan font-size="19.0" dy="-12.6">3</tspan></text>
<text transform="translate(144.2 829.8) scale(0.964 1)" text-anchor="end">1 <tspan dy="2.6">×</tspan><tspan dy="-2.6"> 10</tspan><tspan font-size="19.0" dy="-12.6">2</tspan></text>
<text transform="translate(144.2 931.2) scale(0.964 1)" text-anchor="end">1 <tspan dy="2.6">×</tspan><tspan dy="-2.6"> 10</tspan><tspan font-size="19.0" dy="-12.6">1</tspan></text>
<text transform="translate(144.2 1032.5) scale(0.964 1)" text-anchor="end">1 <tspan dy="2.6">×</tspan><tspan dy="-2.6"> 10</tspan><tspan font-size="19.0" dy="-12.6">−1</tspan></text>
<text transform="translate(25.9 820.8) rotate(-90) scale(0.964 1)" text-anchor="middle">IFN-γ (pg ml<tspan font-size="19.0" dy="-12">−1</tspan><tspan dy="12">)</tspan></text>
<text transform="translate(5.5 609.7) scale(0.87 1)" font-weight="bold" font-size="32">c</text>
<g>
<circle cx="273.3" cy="794.9" r="8.8" fill="rgb(38,42,48)" fill-opacity="0.5"/>
<circle cx="460.5" cy="746.1" r="8.8" fill="rgb(38,42,48)" fill-opacity="0.5"/>
<circle cx="356.5" cy="780.1" r="8.8" fill="rgb(38,42,48)" fill-opacity="0.5"/>
<circle cx="288.9" cy="837.8" r="8.8" fill="rgb(38,42,48)" fill-opacity="0.5"/>
<circle cx="398.1" cy="831.3" r="8.8" fill="rgb(38,42,48)" fill-opacity="0.5"/>
<circle cx="460.5" cy="828.7" r="8.8" fill="rgb(38,42,48)" fill-opacity="0.5"/>
<circle cx="481.3" cy="816" r="8.8" fill="rgb(38,42,48)" fill-opacity="0.5"/>
<circle cx="278.5" cy="870.2" r="8.8" fill="rgb(38,42,48)" fill-opacity="0.5"/>
<circle cx="288.9" cy="870.2" r="8.8" fill="rgb(38,42,48)" fill-opacity="0.5"/>
<circle cx="356.5" cy="876.3" r="8.8" fill="rgb(38,42,48)" fill-opacity="0.5"/>
<circle cx="335.7" cy="886.2" r="8.8" fill="rgb(38,42,48)" fill-opacity="0.5"/>
<circle cx="382.5" cy="878.3" r="8.8" fill="rgb(38,42,48)" fill-opacity="0.5"/>
<circle cx="392.9" cy="871.7" r="8.8" fill="rgb(38,42,48)" fill-opacity="0.5"/>
<circle cx="408.5" cy="866.4" r="8.8" fill="rgb(38,42,48)" fill-opacity="0.5"/>
<circle cx="421.4" cy="859.5" r="8.8" fill="rgb(38,42,48)" fill-opacity="0.5"/>
<circle cx="273.3" cy="903.8" r="8.8" fill="rgb(38,42,48)" fill-opacity="0.5"/>
<circle cx="288.9" cy="913.4" r="8.8" fill="rgb(38,42,48)" fill-opacity="0.5"/>
<circle cx="330.5" cy="915.5" r="8.8" fill="rgb(38,42,48)" fill-opacity="0.5"/>
<circle cx="372.1" cy="911.8" r="8.8" fill="rgb(38,42,48)" fill-opacity="0.5"/>
<circle cx="398.1" cy="903.4" r="8.8" fill="rgb(38,42,48)" fill-opacity="0.5"/>
<circle cx="361.7" cy="926.2" r="8.8" fill="rgb(38,42,48)" fill-opacity="0.5"/>
<circle cx="340.9" cy="942.2" r="8.8" fill="rgb(38,42,48)" fill-opacity="0.5"/>
<circle cx="450.1" cy="870.9" r="8.8" fill="rgb(38,42,48)" fill-opacity="0.5"/>
<circle cx="455.3" cy="864.8" r="8.8" fill="rgb(38,42,48)" fill-opacity="0.5"/>
<circle cx="455.3" cy="877" r="8.8" fill="rgb(38,42,48)" fill-opacity="0.5"/>
<circle cx="439.7" cy="885.4" r="8.8" fill="rgb(38,42,48)" fill-opacity="0.5"/>
<circle cx="470.9" cy="886.2" r="8.8" fill="rgb(38,42,48)" fill-opacity="0.5"/>
<circle cx="470.9" cy="893.1" r="8.8" fill="rgb(38,42,48)" fill-opacity="0.5"/>
<circle cx="470.9" cy="843.5" r="8.8" fill="rgb(38,42,48)" fill-opacity="0.5"/>
<circle cx="626.9" cy="770" r="8.8" fill="rgb(38,42,48)" fill-opacity="0.5"/>
<circle cx="647.7" cy="754.3" r="8.8" fill="rgb(38,42,48)" fill-opacity="0.5"/>
<circle cx="647.7" cy="761.3" r="8.8" fill="rgb(38,42,48)" fill-opacity="0.5"/>
<circle cx="658.1" cy="764.5" r="8.8" fill="rgb(38,42,48)" fill-opacity="0.5"/>
<circle cx="652.9" cy="770" r="8.8" fill="rgb(38,42,48)" fill-opacity="0.5"/>
<circle cx="642.5" cy="793.9" r="8.8" fill="rgb(38,42,48)" fill-opacity="0.5"/>
<circle cx="637.3" cy="808.5" r="8.8" fill="rgb(38,42,48)" fill-opacity="0.5"/>
<circle cx="658.1" cy="810.1" r="8.8" fill="rgb(38,42,48)" fill-opacity="0.5"/>
<circle cx="658.1" cy="825.8" r="8.8" fill="rgb(38,42,48)" fill-opacity="0.5"/>
<circle cx="694.5" cy="830.2" r="8.8" fill="rgb(38,42,48)" fill-opacity="0.5"/>
<circle cx="694.5" cy="851" r="8.8" fill="rgb(38,42,48)" fill-opacity="0.5"/>
<circle cx="678.9" cy="863.5" r="8.8" fill="rgb(38,42,48)" fill-opacity="0.5"/>
<circle cx="491.7" cy="817.2" r="8.8" fill="rgb(38,42,48)" fill-opacity="0.5"/>
<circle cx="486.5" cy="826.6" r="8.8" fill="rgb(38,42,48)" fill-opacity="0.5"/>
<circle cx="486.5" cy="851" r="8.8" fill="rgb(38,42,48)" fill-opacity="0.5"/>
<circle cx="554.1" cy="841.5" r="8.8" fill="rgb(38,42,48)" fill-opacity="0.5"/>
<circle cx="559.3" cy="845.5" r="8.8" fill="rgb(38,42,48)" fill-opacity="0.5"/>
<circle cx="564.5" cy="844.7" r="8.8" fill="rgb(38,42,48)" fill-opacity="0.5"/>
<circle cx="522.9" cy="854.9" r="8.8" fill="rgb(38,42,48)" fill-opacity="0.5"/>
<circle cx="564.5" cy="885.6" r="8.8" fill="rgb(38,42,48)" fill-opacity="0.5"/>
<circle cx="600.9" cy="886.4" r="8.8" fill="rgb(38,42,48)" fill-opacity="0.5"/>
<circle cx="517.7" cy="900" r="8.8" fill="rgb(38,42,48)" fill-opacity="0.5"/>
<circle cx="637.3" cy="927.7" r="8.8" fill="rgb(38,42,48)" fill-opacity="0.5"/>
<circle cx="658.1" cy="880.8" r="8.8" fill="rgb(38,42,48)" fill-opacity="0.5"/>
<circle cx="661.1" cy="873.8" r="8.8" fill="rgb(38,42,48)" fill-opacity="0.5"/>
<circle cx="647.7" cy="865.9" r="8.8" fill="rgb(38,42,48)" fill-opacity="0.5"/>
<circle cx="642.5" cy="876.1" r="8.8" fill="rgb(38,42,48)" fill-opacity="0.5"/>
<circle cx="637.3" cy="846.2" r="8.8" fill="rgb(38,42,48)" fill-opacity="0.5"/>
<circle cx="621.7" cy="866.7" r="8.8" fill="rgb(38,42,48)" fill-opacity="0.5"/>
<circle cx="356.5" cy="757.7" r="8.8" fill="url(#og)"/>
<circle cx="398.1" cy="776.3" r="8.8" fill="url(#og)"/>
<circle cx="382.5" cy="791.6" r="8.8" fill="url(#og)"/>
<circle cx="278.5" cy="843.2" r="8.8" fill="url(#og)"/>
<circle cx="346.1" cy="846.5" r="8.8" fill="url(#og)"/>
<circle cx="372.1" cy="839.7" r="8.8" fill="url(#og)"/>
<circle cx="372.1" cy="844.2" r="8.8" fill="url(#og)"/>
<circle cx="413.7" cy="847.3" r="8.8" fill="url(#og)"/>
<circle cx="377.3" cy="857.2" r="8.8" fill="url(#og)"/>
<circle cx="398.1" cy="853.4" r="8.8" fill="url(#og)"/>
<circle cx="408.5" cy="855.7" r="8.8" fill="url(#og)"/>
<circle cx="413.7" cy="861.8" r="8.8" fill="url(#og)"/>
<circle cx="413.7" cy="864.1" r="8.8" fill="url(#og)"/>
<circle cx="387.7" cy="866.4" r="8.8" fill="url(#og)"/>
<circle cx="366.9" cy="868.7" r="8.8" fill="url(#og)"/>
<circle cx="335.7" cy="871.7" r="8.8" fill="url(#og)"/>
<circle cx="335.7" cy="874.8" r="8.8" fill="url(#og)"/>
<circle cx="429.3" cy="861" r="8.8" fill="url(#og)"/>
<circle cx="429.3" cy="874" r="8.8" fill="url(#og)"/>
<circle cx="450.1" cy="851.1" r="8.8" fill="url(#og)"/>
<circle cx="460.5" cy="865.6" r="8.8" fill="url(#og)"/>
<circle cx="450.1" cy="877.8" r="8.8" fill="url(#og)"/>
<circle cx="470.9" cy="874" r="8.8" fill="url(#og)"/>
<circle cx="470.9" cy="898.4" r="8.8" fill="url(#og)"/>
<circle cx="434.5" cy="887.7" r="8.8" fill="url(#og)"/>
<circle cx="434.5" cy="892.3" r="8.8" fill="url(#og)"/>
<circle cx="424.1" cy="895.4" r="8.8" fill="url(#og)"/>
<circle cx="429.3" cy="908.3" r="8.8" fill="url(#og)"/>
<circle cx="392.9" cy="887.7" r="8.8" fill="url(#og)"/>
<circle cx="403.3" cy="893.1" r="8.8" fill="url(#og)"/>
<circle cx="346.1" cy="891.5" r="8.8" fill="url(#og)"/>
<circle cx="361.7" cy="899.2" r="8.8" fill="url(#og)"/>
<circle cx="372.1" cy="902.2" r="8.8" fill="url(#og)"/>
<circle cx="283.7" cy="901.2" r="8.8" fill="url(#og)"/>
<circle cx="325.3" cy="913.7" r="8.8" fill="url(#og)"/>
<circle cx="294.1" cy="932.8" r="8.8" fill="url(#og)"/>
<circle cx="366.9" cy="932.8" r="8.8" fill="url(#og)"/>
<circle cx="470.9" cy="928.6" r="8.8" fill="url(#og)"/>
<circle cx="481.3" cy="867.9" r="8.8" fill="url(#og)"/>
<circle cx="522.9" cy="727.2" r="8.8" fill="url(#og)"/>
<circle cx="658.1" cy="805" r="8.8" fill="url(#og)"/>
<circle cx="678.9" cy="814" r="8.8" fill="url(#og)"/>
<circle cx="590.5" cy="834" r="8.8" fill="url(#og)"/>
<circle cx="486.5" cy="832.9" r="8.8" fill="url(#og)"/>
<circle cx="496.9" cy="842.3" r="8.8" fill="url(#og)"/>
<circle cx="507.3" cy="848.6" r="8.8" fill="url(#og)"/>
<circle cx="512.5" cy="846.2" r="8.8" fill="url(#og)"/>
<circle cx="611.3" cy="840" r="8.8" fill="url(#og)"/>
<circle cx="600.9" cy="847.8" r="8.8" fill="url(#og)"/>
<circle cx="626.9" cy="841.5" r="8.8" fill="url(#og)"/>
<circle cx="632.1" cy="843.9" r="8.8" fill="url(#og)"/>
<circle cx="637.3" cy="851" r="8.8" fill="url(#og)"/>
<circle cx="642.5" cy="849.4" r="8.8" fill="url(#og)"/>
<circle cx="590.5" cy="856.5" r="8.8" fill="url(#og)"/>
<circle cx="611.3" cy="863.5" r="8.8" fill="url(#og)"/>
<circle cx="626.9" cy="858.8" r="8.8" fill="url(#og)"/>
<circle cx="632.1" cy="863.5" r="8.8" fill="url(#og)"/>
<circle cx="626.9" cy="877.7" r="8.8" fill="url(#og)"/>
<circle cx="626.9" cy="882.4" r="8.8" fill="url(#og)"/>
<circle cx="637.3" cy="880.1" r="8.8" fill="url(#og)"/>
<circle cx="533.3" cy="857.3" r="8.8" fill="url(#og)"/>
<circle cx="543.7" cy="857.3" r="8.8" fill="url(#og)"/>
<circle cx="564.5" cy="867.5" r="8.8" fill="url(#og)"/>
<circle cx="538.5" cy="874.1" r="8.8" fill="url(#og)"/>
<circle cx="569.7" cy="883.2" r="8.8" fill="url(#og)"/>
<circle cx="580.1" cy="881.6" r="8.8" fill="url(#og)"/>
<circle cx="491.7" cy="863.5" r="8.8" fill="url(#og)"/>
<circle cx="486.5" cy="868.3" r="8.8" fill="url(#og)"/>
<circle cx="491.7" cy="870.6" r="8.8" fill="url(#og)"/>
<circle cx="507.3" cy="870.6" r="8.8" fill="url(#og)"/>
<circle cx="507.3" cy="877.7" r="8.8" fill="url(#og)"/>
<circle cx="512.5" cy="883.2" r="8.8" fill="url(#og)"/>
<circle cx="496.9" cy="882.4" r="8.8" fill="url(#og)"/>
<circle cx="491.7" cy="888.7" r="8.8" fill="url(#og)"/>
<circle cx="512.5" cy="899.7" r="8.8" fill="url(#og)"/>
<circle cx="548.9" cy="897.4" r="8.8" fill="url(#og)"/>
<circle cx="559.3" cy="904.4" r="8.8" fill="url(#og)"/>
<circle cx="559.3" cy="917.8" r="8.8" fill="url(#og)"/>
<circle cx="590.5" cy="902.1" r="8.8" fill="url(#og)"/>
<circle cx="590.5" cy="912.3" r="8.8" fill="url(#og)"/>
<circle cx="632.1" cy="913.1" r="8.8" fill="url(#og)"/>
<circle cx="673.7" cy="892.2" r="8.8" fill="url(#og)"/>
<circle cx="665.8" cy="870.6" r="8.8" fill="url(#og)"/>
<circle cx="673.7" cy="866.7" r="8.8" fill="url(#og)"/>
<circle cx="629.6" cy="842.3" r="8.8" fill="url(#og)"/>
<circle cx="634.3" cy="847" r="8.8" fill="url(#og)"/>
<circle cx="624.9" cy="879.3" r="8.8" fill="url(#og)"/>
</g>
<clipPath id="clc"><rect x="0" y="599.3" width="1507" height="431.3"/></clipPath>
<path d="M273.4 870.4 L276.9 869.4 L280.5 868.4 L284 867.5 L287.6 866.6 L291.1 865.7 L294.6 864.8 L298.2 864 L301.7 863.2 L305.3 862.3 L308.8 861.5 L312.3 860.8 L315.9 860 L319.4 859.3 L323 858.5 L326.5 857.8 L330 857.1 L333.6 856.4 L337.1 855.7 L340.7 855 L344.2 854.4 L347.7 853.7 L351.3 853.1 L354.8 852.5 L358.3 851.9 L361.9 851.3 L365.4 850.7 L369 850.1 L372.5 849.5 L376 848.9 L379.6 848.4 L383.1 847.8 L386.7 847.3 L390.2 846.7 L393.7 846.2 L397.3 845.7 L400.8 845.2 L404.4 844.7 L407.9 844.2 L411.4 843.7 L415 843.2 L418.5 842.7 L422.1 842.2 L425.6 841.8 L429.1 841.3 L432.7 840.8 L436.2 840.4 L439.8 839.9 L443.3 839.5 L446.8 839.1 L450.4 838.6 L453.9 838.2 L457.5 837.8 L461 837.4 L464.5 836.9 L468.1 836.5 L471.6 836.1 L475.2 835.7 L478.7 835.3 L482.2 834.9 L485.8 834.6 L489.3 834.2 L492.8 833.8 L496.4 833.4 L499.9 833 L503.5 832.7 L507 832.3 L510.5 832 L514.1 831.6 L517.6 831.2 L521.2 830.9 L524.7 830.5 L528.2 830.2 L531.8 829.9 L535.3 829.5 L538.9 829.2 L542.4 828.9 L545.9 828.5 L549.5 828.2 L553 827.9 L556.6 827.6 L560.1 827.2 L563.6 826.9 L567.2 826.6 L570.7 826.3 L574.3 826 L577.8 825.7 L581.3 825.4 L584.9 825.1 L588.4 824.8 L592 824.5 L595.5 824.2 L599 823.9 L602.6 823.6 L606.1 823.4 L609.7 823.1 L613.2 822.8 L616.7 822.5 L620.3 822.2 L623.8 822 L627.3 821.7 L630.9 821.4 L634.4 821.2 L638 820.9 L641.5 820.6 L645 820.4 L648.6 820.1 L652.1 819.8 L655.7 819.6 L659.2 819.3 L662.7 819.1 L666.3 818.8 L669.8 818.6 L673.4 818.3 L676.9 818.1 L680.4 817.8 L684 817.6 L687.5 817.4 L691.1 817.1 L694.6 816.9" fill="none" stroke="#231f20" stroke-width="7.2" stroke-linecap="round" stroke-linejoin="round" clip-path="url(#clc)"/>
<path d="M282 848 L677.3 851.5" fill="none" stroke="#ee3e25" stroke-width="7.2" stroke-linecap="round" stroke-linejoin="round" clip-path="url(#clc)"/>
<g stroke="#231f20" stroke-width="1" fill="none">
<path d="M965.9 618.3 V1037" stroke-width="1.2"/>
<path d="M965.9 1024 H1486.1" stroke-width="1.4"/>
<path d="M952.6 1024 H965.9"/>
<path d="M952.6 618.8 H965.9"/>
<path d="M952.6 821.4 H965.9"/>
<path d="M1225.8 1024 V1037"/>
<path d="M1485.6 1024 V1037"/>
</g>
<text transform="translate(965.5 1074.2) scale(0.964 1)" text-anchor="middle">0</text>
<text transform="translate(1225.8 1074.2) scale(0.964 1)" text-anchor="middle">50</text>
<text transform="translate(1485.6 1074.2) scale(0.964 1)" text-anchor="middle">100</text>
<text transform="translate(1225 1118) scale(0.964 1)" text-anchor="middle">Age (years)</text>
<text transform="translate(933.6 626.7) scale(0.964 1)" text-anchor="end">1 <tspan dy="2.6">×</tspan><tspan dy="-2.6"> 10</tspan><tspan font-size="19.0" dy="-12.6">2</tspan></text>
<text transform="translate(933.6 829.3) scale(0.964 1)" text-anchor="end">1 <tspan dy="2.6">×</tspan><tspan dy="-2.6"> 10</tspan><tspan font-size="19.0" dy="-12.6">1</tspan></text>
<text transform="translate(933.6 1031.9) scale(0.964 1)" text-anchor="end">1 <tspan dy="2.6">×</tspan><tspan dy="-2.6"> 10</tspan><tspan font-size="19.0" dy="-12.6">−1</tspan></text>
<text transform="translate(803 821.8) rotate(-90) scale(0.964 1)" text-anchor="middle">TNF-α (pg ml<tspan font-size="19.0" dy="-12">−1</tspan><tspan dy="12">)</tspan></text>
<text transform="translate(782.5 609.7) scale(0.87 1)" font-weight="bold" font-size="32">d</text>
<g>
<circle cx="1147.8" cy="676.6" r="8.8" fill="rgb(38,42,48)" fill-opacity="0.5"/>
<circle cx="1080.2" cy="701.7" r="8.8" fill="rgb(38,42,48)" fill-opacity="0.5"/>
<circle cx="1210.2" cy="706.8" r="8.8" fill="rgb(38,42,48)" fill-opacity="0.5"/>
<circle cx="1230.9" cy="705.1" r="8.8" fill="rgb(38,42,48)" fill-opacity="0.5"/>
<circle cx="1246.5" cy="704.8" r="8.8" fill="rgb(38,42,48)" fill-opacity="0.5"/>
<circle cx="1251.7" cy="706.3" r="8.8" fill="rgb(38,42,48)" fill-opacity="0.5"/>
<circle cx="1262.1" cy="713.2" r="8.8" fill="rgb(38,42,48)" fill-opacity="0.5"/>
<circle cx="1199.8" cy="726.2" r="8.8" fill="rgb(38,42,48)" fill-opacity="0.5"/>
<circle cx="1173.8" cy="733.3" r="8.8" fill="rgb(38,42,48)" fill-opacity="0.5"/>
<circle cx="1251.7" cy="730" r="8.8" fill="rgb(38,42,48)" fill-opacity="0.5"/>
<circle cx="1189.4" cy="744.5" r="8.8" fill="rgb(38,42,48)" fill-opacity="0.5"/>
<circle cx="1064.6" cy="755.9" r="8.8" fill="rgb(38,42,48)" fill-opacity="0.5"/>
<circle cx="1069.8" cy="757" r="8.8" fill="rgb(38,42,48)" fill-opacity="0.5"/>
<circle cx="1116.6" cy="761.3" r="8.8" fill="rgb(38,42,48)" fill-opacity="0.5"/>
<circle cx="1121.8" cy="769.7" r="8.8" fill="rgb(38,42,48)" fill-opacity="0.5"/>
<circle cx="1184.2" cy="768.6" r="8.8" fill="rgb(38,42,48)" fill-opacity="0.5"/>
<circle cx="1262.1" cy="765.8" r="8.8" fill="rgb(38,42,48)" fill-opacity="0.5"/>
<circle cx="1147.8" cy="775.8" r="8.8" fill="rgb(38,42,48)" fill-opacity="0.5"/>
<circle cx="1064.6" cy="786.4" r="8.8" fill="rgb(38,42,48)" fill-opacity="0.5"/>
<circle cx="1080.2" cy="794.8" r="8.8" fill="rgb(38,42,48)" fill-opacity="0.5"/>
<circle cx="1127" cy="791.8" r="8.8" fill="rgb(38,42,48)" fill-opacity="0.5"/>
<circle cx="1163.4" cy="791.8" r="8.8" fill="rgb(38,42,48)" fill-opacity="0.5"/>
<circle cx="1230.9" cy="793" r="8.8" fill="rgb(38,42,48)" fill-opacity="0.5"/>
<circle cx="1241.3" cy="784.2" r="8.8" fill="rgb(38,42,48)" fill-opacity="0.5"/>
<circle cx="1272.5" cy="776.5" r="8.8" fill="rgb(38,42,48)" fill-opacity="0.5"/>
<circle cx="1262.1" cy="794.8" r="8.8" fill="rgb(38,42,48)" fill-opacity="0.5"/>
<circle cx="1080.2" cy="809.3" r="8.8" fill="rgb(38,42,48)" fill-opacity="0.5"/>
<circle cx="1132.2" cy="815.1" r="8.8" fill="rgb(38,42,48)" fill-opacity="0.5"/>
<circle cx="1153" cy="824.9" r="8.8" fill="rgb(38,42,48)" fill-opacity="0.5"/>
<circle cx="1189.4" cy="810.9" r="8.8" fill="rgb(38,42,48)" fill-opacity="0.5"/>
<circle cx="1246.5" cy="814.7" r="8.8" fill="rgb(38,42,48)" fill-opacity="0.5"/>
<circle cx="1262.1" cy="826.9" r="8.8" fill="rgb(38,42,48)" fill-opacity="0.5"/>
<circle cx="1184.2" cy="837.6" r="8.8" fill="rgb(38,42,48)" fill-opacity="0.5"/>
<circle cx="1438.8" cy="652.8" r="8.8" fill="rgb(38,42,48)" fill-opacity="0.5"/>
<circle cx="1438.8" cy="665.9" r="8.8" fill="rgb(38,42,48)" fill-opacity="0.5"/>
<circle cx="1355.7" cy="675.6" r="8.8" fill="rgb(38,42,48)" fill-opacity="0.5"/>
<circle cx="1277.7" cy="687.7" r="8.8" fill="rgb(38,42,48)" fill-opacity="0.5"/>
<circle cx="1282.9" cy="711.5" r="8.8" fill="rgb(38,42,48)" fill-opacity="0.5"/>
<circle cx="1428.4" cy="680" r="8.8" fill="rgb(38,42,48)" fill-opacity="0.5"/>
<circle cx="1423.2" cy="692.9" r="8.8" fill="rgb(38,42,48)" fill-opacity="0.5"/>
<circle cx="1433.6" cy="696" r="8.8" fill="rgb(38,42,48)" fill-opacity="0.5"/>
<circle cx="1444" cy="697.6" r="8.8" fill="rgb(38,42,48)" fill-opacity="0.5"/>
<circle cx="1454.4" cy="693.7" r="8.8" fill="rgb(38,42,48)" fill-opacity="0.5"/>
<circle cx="1438.8" cy="703.9" r="8.8" fill="rgb(38,42,48)" fill-opacity="0.5"/>
<circle cx="1438.8" cy="703.1" r="8.8" fill="rgb(38,42,48)" fill-opacity="0.5"/>
<circle cx="1444" cy="703.9" r="8.8" fill="rgb(38,42,48)" fill-opacity="0.5"/>
<circle cx="1485.6" cy="692.6" r="8.8" fill="rgb(38,42,48)" fill-opacity="0.5"/>
<circle cx="1485.6" cy="706.3" r="8.8" fill="rgb(38,42,48)" fill-opacity="0.5"/>
<circle cx="1470" cy="724.4" r="8.8" fill="rgb(38,42,48)" fill-opacity="0.5"/>
<circle cx="1418" cy="719.6" r="8.8" fill="rgb(38,42,48)" fill-opacity="0.5"/>
<circle cx="1449.2" cy="715.7" r="8.8" fill="rgb(38,42,48)" fill-opacity="0.5"/>
<circle cx="1436.7" cy="714.9" r="8.8" fill="rgb(38,42,48)" fill-opacity="0.5"/>
<circle cx="1449.2" cy="740.1" r="8.8" fill="rgb(38,42,48)" fill-opacity="0.5"/>
<circle cx="1433.6" cy="754.2" r="8.8" fill="rgb(38,42,48)" fill-opacity="0.5"/>
<circle cx="1433.6" cy="736.9" r="8.8" fill="rgb(38,42,48)" fill-opacity="0.5"/>
<circle cx="1449.2" cy="782.9" r="8.8" fill="rgb(38,42,48)" fill-opacity="0.5"/>
<circle cx="1314.1" cy="733" r="8.8" fill="rgb(38,42,48)" fill-opacity="0.5"/>
<circle cx="1314.1" cy="770.7" r="8.8" fill="rgb(38,42,48)" fill-opacity="0.5"/>
<circle cx="1355.7" cy="751.1" r="8.8" fill="rgb(38,42,48)" fill-opacity="0.5"/>
<circle cx="1345.3" cy="743.2" r="8.8" fill="rgb(38,42,48)" fill-opacity="0.5"/>
<circle cx="1350.5" cy="773.1" r="8.8" fill="rgb(38,42,48)" fill-opacity="0.5"/>
<circle cx="1308.9" cy="794.6" r="8.8" fill="rgb(38,42,48)" fill-opacity="0.5"/>
<circle cx="1288.1" cy="740.1" r="8.8" fill="rgb(38,42,48)" fill-opacity="0.5"/>
<circle cx="1277.7" cy="809.6" r="8.8" fill="rgb(38,42,48)" fill-opacity="0.5"/>
<circle cx="1392.1" cy="720.4" r="8.8" fill="rgb(38,42,48)" fill-opacity="0.5"/>
<circle cx="1173.8" cy="706.8" r="8.8" fill="url(#og)"/>
<circle cx="1194.6" cy="711.7" r="8.8" fill="url(#og)"/>
<circle cx="1262.1" cy="700.2" r="8.8" fill="url(#og)"/>
<circle cx="1262.1" cy="704.8" r="8.8" fill="url(#og)"/>
<circle cx="1205" cy="729.2" r="8.8" fill="url(#og)"/>
<circle cx="1189.4" cy="736.4" r="8.8" fill="url(#og)"/>
<circle cx="1069.8" cy="746.3" r="8.8" fill="url(#og)"/>
<circle cx="1101" cy="743.7" r="8.8" fill="url(#og)"/>
<circle cx="1116.6" cy="740.2" r="8.8" fill="url(#og)"/>
<circle cx="1137.4" cy="744.8" r="8.8" fill="url(#og)"/>
<circle cx="1127" cy="756.2" r="8.8" fill="url(#og)"/>
<circle cx="1158.2" cy="753.6" r="8.8" fill="url(#og)"/>
<circle cx="1179" cy="751" r="8.8" fill="url(#og)"/>
<circle cx="1199.8" cy="755.2" r="8.8" fill="url(#og)"/>
<circle cx="1163.4" cy="764.3" r="8.8" fill="url(#og)"/>
<circle cx="1163.4" cy="773.5" r="8.8" fill="url(#og)"/>
<circle cx="1137.4" cy="770.4" r="8.8" fill="url(#og)"/>
<circle cx="1075" cy="772.7" r="8.8" fill="url(#og)"/>
<circle cx="1147.8" cy="781.9" r="8.8" fill="url(#og)"/>
<circle cx="1168.6" cy="782.6" r="8.8" fill="url(#og)"/>
<circle cx="1163.4" cy="788.7" r="8.8" fill="url(#og)"/>
<circle cx="1127" cy="785.7" r="8.8" fill="url(#og)"/>
<circle cx="1205" cy="784.2" r="8.8" fill="url(#og)"/>
<circle cx="1215.4" cy="785.7" r="8.8" fill="url(#og)"/>
<circle cx="1220.6" cy="781.1" r="8.8" fill="url(#og)"/>
<circle cx="1225.8" cy="776.5" r="8.8" fill="url(#og)"/>
<circle cx="1241.3" cy="768.1" r="8.8" fill="url(#og)"/>
<circle cx="1241.3" cy="784.2" r="8.8" fill="url(#og)"/>
<circle cx="1251.7" cy="796.4" r="8.8" fill="url(#og)"/>
<circle cx="1262.1" cy="807.8" r="8.8" fill="url(#og)"/>
<circle cx="1272.5" cy="790.3" r="8.8" fill="url(#og)"/>
<circle cx="1272.5" cy="776.5" r="8.8" fill="url(#og)"/>
<circle cx="1121.8" cy="805.5" r="8.8" fill="url(#og)"/>
<circle cx="1085.4" cy="812.1" r="8.8" fill="url(#og)"/>
<circle cx="1158.2" cy="812.8" r="8.8" fill="url(#og)"/>
<circle cx="1189.4" cy="807" r="8.8" fill="url(#og)"/>
<circle cx="1184.2" cy="821.5" r="8.8" fill="url(#og)"/>
<circle cx="1184.2" cy="836" r="8.8" fill="url(#og)"/>
<circle cx="1205" cy="838.3" r="8.8" fill="url(#og)"/>
<circle cx="1220.6" cy="815.4" r="8.8" fill="url(#og)"/>
<circle cx="1220.6" cy="828.4" r="8.8" fill="url(#og)"/>
<circle cx="1225.8" cy="830.7" r="8.8" fill="url(#og)"/>
<circle cx="1381.7" cy="656.7" r="8.8" fill="url(#og)"/>
<circle cx="1423.2" cy="677.6" r="8.8" fill="url(#og)"/>
<circle cx="1428.4" cy="687.4" r="8.8" fill="url(#og)"/>
<circle cx="1314.1" cy="698.7" r="8.8" fill="url(#og)"/>
<circle cx="1464.8" cy="696" r="8.8" fill="url(#og)"/>
<circle cx="1470" cy="700.8" r="8.8" fill="url(#og)"/>
<circle cx="1423.2" cy="709.4" r="8.8" fill="url(#og)"/>
<circle cx="1402.4" cy="711.8" r="8.8" fill="url(#og)"/>
<circle cx="1381.7" cy="718.9" r="8.8" fill="url(#og)"/>
<circle cx="1459.6" cy="710.2" r="8.8" fill="url(#og)"/>
<circle cx="1449.2" cy="722.8" r="8.8" fill="url(#og)"/>
<circle cx="1464.8" cy="727.5" r="8.8" fill="url(#og)"/>
<circle cx="1288.1" cy="725.1" r="8.8" fill="url(#og)"/>
<circle cx="1303.7" cy="726.7" r="8.8" fill="url(#og)"/>
<circle cx="1298.5" cy="732.2" r="8.8" fill="url(#og)"/>
<circle cx="1350.5" cy="727.5" r="8.8" fill="url(#og)"/>
<circle cx="1360.9" cy="733" r="8.8" fill="url(#og)"/>
<circle cx="1392.1" cy="731.4" r="8.8" fill="url(#og)"/>
<circle cx="1402.4" cy="729.9" r="8.8" fill="url(#og)"/>
<circle cx="1418" cy="730.6" r="8.8" fill="url(#og)"/>
<circle cx="1412.8" cy="736.9" r="8.8" fill="url(#og)"/>
<circle cx="1418" cy="740.1" r="8.8" fill="url(#og)"/>
<circle cx="1433.6" cy="736.9" r="8.8" fill="url(#og)"/>
<circle cx="1381.7" cy="749.8" r="8.8" fill="url(#og)"/>
<circle cx="1418" cy="754.2" r="8.8" fill="url(#og)"/>
<circle cx="1423.2" cy="753.4" r="8.8" fill="url(#og)"/>
<circle cx="1418" cy="766.8" r="8.8" fill="url(#og)"/>
<circle cx="1454.4" cy="755.8" r="8.8" fill="url(#og)"/>
<circle cx="1340.1" cy="749.5" r="8.8" fill="url(#og)"/>
<circle cx="1350.5" cy="757.4" r="8.8" fill="url(#og)"/>
<circle cx="1334.9" cy="763.7" r="8.8" fill="url(#og)"/>
<circle cx="1360.9" cy="764.5" r="8.8" fill="url(#og)"/>
<circle cx="1355.7" cy="773.1" r="8.8" fill="url(#og)"/>
<circle cx="1371.3" cy="778.1" r="8.8" fill="url(#og)"/>
<circle cx="1298.5" cy="755.8" r="8.8" fill="url(#og)"/>
<circle cx="1298.5" cy="762.1" r="8.8" fill="url(#og)"/>
<circle cx="1303.7" cy="771.5" r="8.8" fill="url(#og)"/>
<circle cx="1303.7" cy="784.9" r="8.8" fill="url(#og)"/>
<circle cx="1282.9" cy="760.5" r="8.8" fill="url(#og)"/>
<circle cx="1282.9" cy="788.8" r="8.8" fill="url(#og)"/>
<circle cx="1329.7" cy="788.5" r="8.8" fill="url(#og)"/>
<circle cx="1324.5" cy="797.5" r="8.8" fill="url(#og)"/>
<circle cx="1282.9" cy="809.3" r="8.8" fill="url(#og)"/>
<circle cx="1381.7" cy="799.8" r="8.8" fill="url(#og)"/>
<circle cx="1415.5" cy="738.5" r="8.8" fill="url(#og)"/>
<circle cx="1418" cy="742.3" r="8.8" fill="url(#og)"/>
</g>
<clipPath id="cld"><rect x="0" y="598.8" width="1507" height="431.2"/></clipPath>
<path d="M1065.1 781.6 L1068.6 780.3 L1072.2 779 L1075.7 777.8 L1079.2 776.6 L1082.8 775.5 L1086.3 774.4 L1089.8 773.3 L1093.4 772.3 L1096.9 771.3 L1100.4 770.3 L1104 769.3 L1107.5 768.4 L1111 767.5 L1114.6 766.6 L1118.1 765.7 L1121.6 764.8 L1125.2 764 L1128.7 763.2 L1132.2 762.4 L1135.8 761.6 L1139.3 760.8 L1142.8 760 L1146.4 759.2 L1149.9 758.5 L1153.4 757.7 L1157 757 L1160.5 756.2 L1164 755.5 L1167.6 754.8 L1171.1 754.1 L1174.6 753.4 L1178.1 752.7 L1181.7 752 L1185.2 751.4 L1188.7 750.7 L1192.3 750 L1195.8 749.4 L1199.3 748.7 L1202.9 748.1 L1206.4 747.4 L1209.9 746.8 L1213.5 746.2 L1217 745.5 L1220.5 744.9 L1224.1 744.3 L1227.6 743.7 L1231.1 743.1 L1234.7 742.4 L1238.2 741.8 L1241.7 741.2 L1245.3 740.6 L1248.8 740 L1252.3 739.5 L1255.9 738.9 L1259.4 738.3 L1262.9 737.7 L1266.5 737.1 L1270 736.6 L1273.5 736 L1277.1 735.4 L1280.6 734.8 L1284.1 734.3 L1287.7 733.7 L1291.2 733.2 L1294.7 732.6 L1298.3 732 L1301.8 731.5 L1305.3 730.9 L1308.9 730.4 L1312.4 729.8 L1315.9 729.3 L1319.5 728.8 L1323 728.2 L1326.5 727.7 L1330.1 727.1 L1333.6 726.6 L1337.1 726.1 L1340.7 725.6 L1344.2 725 L1347.7 724.5 L1351.3 724 L1354.8 723.4 L1358.3 722.9 L1361.9 722.4 L1365.4 721.9 L1368.9 721.4 L1372.5 720.9 L1376 720.3 L1379.5 719.8 L1383 719.3 L1386.6 718.8 L1390.1 718.3 L1393.6 717.8 L1397.2 717.3 L1400.7 716.8 L1404.2 716.3 L1407.8 715.8 L1411.3 715.3 L1414.8 714.8 L1418.4 714.3 L1421.9 713.8 L1425.4 713.3 L1429 712.8 L1432.5 712.3 L1436 711.8 L1439.6 711.4 L1443.1 710.9 L1446.6 710.4 L1450.2 709.9 L1453.7 709.4 L1457.2 708.9 L1460.8 708.5 L1464.3 708 L1467.8 707.5 L1471.4 707 L1474.9 706.5 L1478.4 706.1 L1482 705.6 L1485.5 705.1" fill="none" stroke="#231f20" stroke-width="7.2" stroke-linecap="round" stroke-linejoin="round" clip-path="url(#cld)"/>
<path d="M1073.3 792.5 L1076.6 791.6 L1079.9 790.7 L1083.3 789.9 L1086.6 789 L1089.9 788.1 L1093.2 787.3 L1096.6 786.5 L1099.9 785.6 L1103.2 784.8 L1106.5 784 L1109.8 783.2 L1113.2 782.4 L1116.5 781.7 L1119.8 780.9 L1123.1 780.1 L1126.5 779.3 L1129.8 778.6 L1133.1 777.8 L1136.4 777.1 L1139.8 776.4 L1143.1 775.6 L1146.4 774.9 L1149.7 774.2 L1153 773.5 L1156.4 772.8 L1159.7 772.1 L1163 771.4 L1166.3 770.7 L1169.7 770.1 L1173 769.4 L1176.3 768.7 L1179.6 768.1 L1182.9 767.4 L1186.3 766.8 L1189.6 766.1 L1192.9 765.5 L1196.2 764.9 L1199.6 764.2 L1202.9 763.6 L1206.2 763 L1209.5 762.4 L1212.9 761.8 L1216.2 761.2 L1219.5 760.5 L1222.8 760 L1226.1 759.4 L1229.5 758.8 L1232.8 758.2 L1236.1 757.6 L1239.4 757 L1242.8 756.5 L1246.1 755.9 L1249.4 755.3 L1252.7 754.8 L1256 754.2 L1259.4 753.7 L1262.7 753.1 L1266 752.6 L1269.3 752 L1272.7 751.5 L1276 750.9 L1279.3 750.4 L1282.6 749.9 L1286 749.3 L1289.3 748.8 L1292.6 748.3 L1295.9 747.8 L1299.2 747.3 L1302.6 746.8 L1305.9 746.3 L1309.2 745.8 L1312.5 745.2 L1315.9 744.8 L1319.2 744.3 L1322.5 743.8 L1325.8 743.3 L1329.1 742.8 L1332.5 742.3 L1335.8 741.8 L1339.1 741.3 L1342.4 740.9 L1345.8 740.4 L1349.1 739.9 L1352.4 739.4 L1355.7 739 L1359.1 738.5 L1362.4 738 L1365.7 737.6 L1369 737.1 L1372.3 736.7 L1375.7 736.2 L1379 735.8 L1382.3 735.3 L1385.6 734.9 L1389 734.4 L1392.3 734 L1395.6 733.5 L1398.9 733.1 L1402.2 732.7 L1405.6 732.2 L1408.9 731.8 L1412.2 731.4 L1415.5 730.9 L1418.9 730.5 L1422.2 730.1 L1425.5 729.7 L1428.8 729.3 L1432.2 728.8 L1435.5 728.4 L1438.8 728 L1442.1 727.6 L1445.4 727.2 L1448.8 726.8 L1452.1 726.4 L1455.4 726 L1458.7 725.6 L1462.1 725.2 L1465.4 724.8 L1468.7 724.4" fill="none" stroke="#ee3e25" stroke-width="7.2" stroke-linecap="round" stroke-linejoin="round" clip-path="url(#cld)"/>
<g stroke="#231f20" stroke-width="1" fill="none">
<path d="M174.5 1182.9 V1602" stroke-width="1.2"/>
<path d="M174.5 1589 H695" stroke-width="1.4"/>
<path d="M161.2 1589 H174.5"/>
<path d="M161.2 1183.4 H174.5"/>
<path d="M161.2 1284.8 H174.5"/>
<path d="M161.2 1386.2 H174.5"/>
<path d="M161.2 1487.6 H174.5"/>
<path d="M434.5 1589 V1602"/>
<path d="M694.5 1589 V1602"/>
</g>
<text transform="translate(173.3 1638.2) scale(0.964 1)" text-anchor="middle">0</text>
<text transform="translate(434.5 1638.2) scale(0.964 1)" text-anchor="middle">50</text>
<text transform="translate(694.5 1638.2) scale(0.964 1)" text-anchor="middle">100</text>
<text transform="translate(433.7 1682) scale(0.964 1)" text-anchor="middle">Age (years)</text>
<text transform="translate(144.2 1191.3) scale(0.964 1)" text-anchor="end">1 <tspan dy="2.6">×</tspan><tspan dy="-2.6"> 10</tspan><tspan font-size="19.0" dy="-12.6">4</tspan></text>
<text transform="translate(144.2 1292.7) scale(0.964 1)" text-anchor="end">1 <tspan dy="2.6">×</tspan><tspan dy="-2.6"> 10</tspan><tspan font-size="19.0" dy="-12.6">3</tspan></text>
<text transform="translate(144.2 1394.1) scale(0.964 1)" text-anchor="end">1 <tspan dy="2.6">×</tspan><tspan dy="-2.6"> 10</tspan><tspan font-size="19.0" dy="-12.6">2</tspan></text>
<text transform="translate(144.2 1495.5) scale(0.964 1)" text-anchor="end">1 <tspan dy="2.6">×</tspan><tspan dy="-2.6"> 10</tspan><tspan font-size="19.0" dy="-12.6">1</tspan></text>
<text transform="translate(144.2 1596.9) scale(0.964 1)" text-anchor="end">1 <tspan dy="2.6">×</tspan><tspan dy="-2.6"> 10</tspan><tspan font-size="19.0" dy="-12.6">−1</tspan></text>
<text transform="translate(29.2 1385.5) rotate(-90) scale(0.964 1)" text-anchor="middle">IL-6 (pg ml<tspan font-size="19.0" dy="-12">−1</tspan><tspan dy="12">)</tspan></text>
<text transform="translate(5.5 1176.3) scale(0.87 1)" font-weight="bold" font-size="32">e</text>
<g>
<circle cx="356.5" cy="1420.4" r="8.8" fill="rgb(38,42,48)" fill-opacity="0.5"/>
<circle cx="288.9" cy="1469.1" r="8.8" fill="rgb(38,42,48)" fill-opacity="0.5"/>
<circle cx="278.5" cy="1489.2" r="8.8" fill="rgb(38,42,48)" fill-opacity="0.5"/>
<circle cx="273.3" cy="1505.4" r="8.8" fill="rgb(38,42,48)" fill-opacity="0.5"/>
<circle cx="288.9" cy="1519.8" r="8.8" fill="rgb(38,42,48)" fill-opacity="0.5"/>
<circle cx="273.3" cy="1531.4" r="8.8" fill="rgb(38,42,48)" fill-opacity="0.5"/>
<circle cx="288.9" cy="1535.6" r="8.8" fill="rgb(38,42,48)" fill-opacity="0.5"/>
<circle cx="455.3" cy="1446.2" r="8.8" fill="rgb(38,42,48)" fill-opacity="0.5"/>
<circle cx="330.5" cy="1524.7" r="8.8" fill="rgb(38,42,48)" fill-opacity="0.5"/>
<circle cx="340.9" cy="1518.6" r="8.8" fill="rgb(38,42,48)" fill-opacity="0.5"/>
<circle cx="372.1" cy="1499.2" r="8.8" fill="rgb(38,42,48)" fill-opacity="0.5"/>
<circle cx="356.5" cy="1536.3" r="8.8" fill="rgb(38,42,48)" fill-opacity="0.5"/>
<circle cx="361.7" cy="1537.1" r="8.8" fill="rgb(38,42,48)" fill-opacity="0.5"/>
<circle cx="382.5" cy="1530.9" r="8.8" fill="rgb(38,42,48)" fill-opacity="0.5"/>
<circle cx="392.9" cy="1544.8" r="8.8" fill="rgb(38,42,48)" fill-opacity="0.5"/>
<circle cx="392.9" cy="1550.2" r="8.8" fill="rgb(38,42,48)" fill-opacity="0.5"/>
<circle cx="398.1" cy="1510.8" r="8.8" fill="rgb(38,42,48)" fill-opacity="0.5"/>
<circle cx="398.1" cy="1517.8" r="8.8" fill="rgb(38,42,48)" fill-opacity="0.5"/>
<circle cx="418.9" cy="1506.2" r="8.8" fill="rgb(38,42,48)" fill-opacity="0.5"/>
<circle cx="439.7" cy="1484.6" r="8.8" fill="rgb(38,42,48)" fill-opacity="0.5"/>
<circle cx="439.7" cy="1513.9" r="8.8" fill="rgb(38,42,48)" fill-opacity="0.5"/>
<circle cx="450.1" cy="1517" r="8.8" fill="rgb(38,42,48)" fill-opacity="0.5"/>
<circle cx="460.5" cy="1492.3" r="8.8" fill="rgb(38,42,48)" fill-opacity="0.5"/>
<circle cx="460.5" cy="1510.1" r="8.8" fill="rgb(38,42,48)" fill-opacity="0.5"/>
<circle cx="470.9" cy="1496.9" r="8.8" fill="rgb(38,42,48)" fill-opacity="0.5"/>
<circle cx="470.9" cy="1529.4" r="8.8" fill="rgb(38,42,48)" fill-opacity="0.5"/>
<circle cx="470.9" cy="1467.6" r="8.8" fill="rgb(38,42,48)" fill-opacity="0.5"/>
<circle cx="325.3" cy="1541.7" r="8.8" fill="rgb(38,42,48)" fill-opacity="0.5"/>
<circle cx="564.5" cy="1325.8" r="8.8" fill="rgb(38,42,48)" fill-opacity="0.5"/>
<circle cx="564.5" cy="1382.4" r="8.8" fill="rgb(38,42,48)" fill-opacity="0.5"/>
<circle cx="663.3" cy="1373.3" r="8.8" fill="rgb(38,42,48)" fill-opacity="0.5"/>
<circle cx="621.7" cy="1391.4" r="8.8" fill="rgb(38,42,48)" fill-opacity="0.5"/>
<circle cx="647.7" cy="1414.2" r="8.8" fill="rgb(38,42,48)" fill-opacity="0.5"/>
<circle cx="647.7" cy="1418.5" r="8.8" fill="rgb(38,42,48)" fill-opacity="0.5"/>
<circle cx="486.5" cy="1436.9" r="8.8" fill="rgb(38,42,48)" fill-opacity="0.5"/>
<circle cx="694.5" cy="1456.6" r="8.8" fill="rgb(38,42,48)" fill-opacity="0.5"/>
<circle cx="694.5" cy="1472.2" r="8.8" fill="rgb(38,42,48)" fill-opacity="0.5"/>
<circle cx="678.9" cy="1484.6" r="8.8" fill="rgb(38,42,48)" fill-opacity="0.5"/>
<circle cx="600.9" cy="1475.2" r="8.8" fill="rgb(38,42,48)" fill-opacity="0.5"/>
<circle cx="559.3" cy="1470.9" r="8.8" fill="rgb(38,42,48)" fill-opacity="0.5"/>
<circle cx="554.1" cy="1488.9" r="8.8" fill="rgb(38,42,48)" fill-opacity="0.5"/>
<circle cx="522.9" cy="1496.6" r="8.8" fill="rgb(38,42,48)" fill-opacity="0.5"/>
<circle cx="522.9" cy="1510.9" r="8.8" fill="rgb(38,42,48)" fill-opacity="0.5"/>
<circle cx="496.9" cy="1507.8" r="8.8" fill="rgb(38,42,48)" fill-opacity="0.5"/>
<circle cx="481.3" cy="1537" r="8.8" fill="rgb(38,42,48)" fill-opacity="0.5"/>
<circle cx="486.5" cy="1482.9" r="8.8" fill="rgb(38,42,48)" fill-opacity="0.5"/>
<circle cx="642.5" cy="1482" r="8.8" fill="rgb(38,42,48)" fill-opacity="0.5"/>
<circle cx="652.9" cy="1473.5" r="8.8" fill="rgb(38,42,48)" fill-opacity="0.5"/>
<circle cx="658.1" cy="1464.9" r="8.8" fill="rgb(38,42,48)" fill-opacity="0.5"/>
<circle cx="647.7" cy="1459.7" r="8.8" fill="rgb(38,42,48)" fill-opacity="0.5"/>
<circle cx="647.7" cy="1460.6" r="8.8" fill="rgb(38,42,48)" fill-opacity="0.5"/>
<circle cx="642.5" cy="1454.6" r="8.8" fill="rgb(38,42,48)" fill-opacity="0.5"/>
<circle cx="642.5" cy="1455.4" r="8.8" fill="rgb(38,42,48)" fill-opacity="0.5"/>
<circle cx="626.9" cy="1437.4" r="8.8" fill="rgb(38,42,48)" fill-opacity="0.5"/>
<circle cx="658.1" cy="1446" r="8.8" fill="rgb(38,42,48)" fill-opacity="0.5"/>
<circle cx="637.3" cy="1435.7" r="8.8" fill="rgb(38,42,48)" fill-opacity="0.5"/>
<circle cx="626.9" cy="1454.6" r="8.8" fill="rgb(38,42,48)" fill-opacity="0.5"/>
<circle cx="278.5" cy="1430.5" r="8.8" fill="url(#og)"/>
<circle cx="382.5" cy="1418.4" r="8.8" fill="url(#og)"/>
<circle cx="470.9" cy="1411.5" r="8.8" fill="url(#og)"/>
<circle cx="356.5" cy="1484.6" r="8.8" fill="url(#og)"/>
<circle cx="392.9" cy="1482.2" r="8.8" fill="url(#og)"/>
<circle cx="335.7" cy="1491.8" r="8.8" fill="url(#og)"/>
<circle cx="346.1" cy="1498.5" r="8.8" fill="url(#og)"/>
<circle cx="346.1" cy="1505.4" r="8.8" fill="url(#og)"/>
<circle cx="309.7" cy="1509.3" r="8.8" fill="url(#og)"/>
<circle cx="283.7" cy="1510.8" r="8.8" fill="url(#og)"/>
<circle cx="366.9" cy="1497.7" r="8.8" fill="url(#og)"/>
<circle cx="377.3" cy="1494.6" r="8.8" fill="url(#og)"/>
<circle cx="372.1" cy="1514.7" r="8.8" fill="url(#og)"/>
<circle cx="361.7" cy="1520.1" r="8.8" fill="url(#og)"/>
<circle cx="413.7" cy="1497.7" r="8.8" fill="url(#og)"/>
<circle cx="413.7" cy="1503.1" r="8.8" fill="url(#og)"/>
<circle cx="403.3" cy="1503.1" r="8.8" fill="url(#og)"/>
<circle cx="434.5" cy="1496.9" r="8.8" fill="url(#og)"/>
<circle cx="450.1" cy="1490.7" r="8.8" fill="url(#og)"/>
<circle cx="429.3" cy="1513.9" r="8.8" fill="url(#og)"/>
<circle cx="413.7" cy="1518.6" r="8.8" fill="url(#og)"/>
<circle cx="398.1" cy="1524.7" r="8.8" fill="url(#og)"/>
<circle cx="387.7" cy="1521.7" r="8.8" fill="url(#og)"/>
<circle cx="392.9" cy="1527.1" r="8.8" fill="url(#og)"/>
<circle cx="366.9" cy="1529.4" r="8.8" fill="url(#og)"/>
<circle cx="372.1" cy="1534" r="8.8" fill="url(#og)"/>
<circle cx="429.3" cy="1528.6" r="8.8" fill="url(#og)"/>
<circle cx="372.1" cy="1546.1" r="8.8" fill="url(#og)"/>
<circle cx="325.3" cy="1541.7" r="8.8" fill="url(#og)"/>
<circle cx="398.1" cy="1558.4" r="8.8" fill="url(#og)"/>
<circle cx="450.1" cy="1556.4" r="8.8" fill="url(#og)"/>
<circle cx="330.5" cy="1570.8" r="8.8" fill="url(#og)"/>
<circle cx="294.1" cy="1576.5" r="8.8" fill="url(#og)"/>
<circle cx="460.5" cy="1519.3" r="8.8" fill="url(#og)"/>
<circle cx="470.9" cy="1512.4" r="8.8" fill="url(#og)"/>
<circle cx="470.9" cy="1472.2" r="8.8" fill="url(#og)"/>
<circle cx="626.9" cy="1376.8" r="8.8" fill="url(#og)"/>
<circle cx="632.1" cy="1394.5" r="8.8" fill="url(#og)"/>
<circle cx="548.9" cy="1412" r="8.8" fill="url(#og)"/>
<circle cx="673.7" cy="1416.8" r="8.8" fill="url(#og)"/>
<circle cx="678.9" cy="1414.5" r="8.8" fill="url(#og)"/>
<circle cx="626.9" cy="1422.8" r="8.8" fill="url(#og)"/>
<circle cx="632.1" cy="1421.9" r="8.8" fill="url(#og)"/>
<circle cx="590.5" cy="1433.1" r="8.8" fill="url(#og)"/>
<circle cx="637.3" cy="1439.1" r="8.8" fill="url(#og)"/>
<circle cx="543.7" cy="1452.8" r="8.8" fill="url(#og)"/>
<circle cx="580.1" cy="1458.9" r="8.8" fill="url(#og)"/>
<circle cx="611.3" cy="1459.7" r="8.8" fill="url(#og)"/>
<circle cx="668.5" cy="1454.6" r="8.8" fill="url(#og)"/>
<circle cx="658.1" cy="1454.6" r="8.8" fill="url(#og)"/>
<circle cx="626.9" cy="1463.1" r="8.8" fill="url(#og)"/>
<circle cx="632.1" cy="1465.7" r="8.8" fill="url(#og)"/>
<circle cx="569.7" cy="1471.7" r="8.8" fill="url(#og)"/>
<circle cx="569.7" cy="1483.8" r="8.8" fill="url(#og)"/>
<circle cx="559.3" cy="1485.5" r="8.8" fill="url(#og)"/>
<circle cx="559.3" cy="1494.9" r="8.8" fill="url(#og)"/>
<circle cx="564.5" cy="1495.8" r="8.8" fill="url(#og)"/>
<circle cx="590.5" cy="1477.7" r="8.8" fill="url(#og)"/>
<circle cx="590.5" cy="1484.6" r="8.8" fill="url(#og)"/>
<circle cx="626.9" cy="1479.5" r="8.8" fill="url(#og)"/>
<circle cx="626.9" cy="1485.5" r="8.8" fill="url(#og)"/>
<circle cx="621.7" cy="1490.6" r="8.8" fill="url(#og)"/>
<circle cx="590.5" cy="1501.8" r="8.8" fill="url(#og)"/>
<circle cx="600.9" cy="1500.9" r="8.8" fill="url(#og)"/>
<circle cx="611.3" cy="1502.6" r="8.8" fill="url(#og)"/>
<circle cx="642.5" cy="1476.9" r="8.8" fill="url(#og)"/>
<circle cx="673.7" cy="1482.9" r="8.8" fill="url(#og)"/>
<circle cx="512.5" cy="1463.1" r="8.8" fill="url(#og)"/>
<circle cx="496.9" cy="1464.9" r="8.8" fill="url(#og)"/>
<circle cx="491.7" cy="1463.1" r="8.8" fill="url(#og)"/>
<circle cx="512.5" cy="1476.9" r="8.8" fill="url(#og)"/>
<circle cx="507.3" cy="1481.2" r="8.8" fill="url(#og)"/>
<circle cx="491.7" cy="1479.5" r="8.8" fill="url(#og)"/>
<circle cx="486.5" cy="1483.8" r="8.8" fill="url(#og)"/>
<circle cx="522.9" cy="1486.3" r="8.8" fill="url(#og)"/>
<circle cx="533.3" cy="1484.6" r="8.8" fill="url(#og)"/>
<circle cx="512.5" cy="1495.8" r="8.8" fill="url(#og)"/>
<circle cx="481.3" cy="1495.8" r="8.8" fill="url(#og)"/>
<circle cx="481.3" cy="1502.6" r="8.8" fill="url(#og)"/>
<circle cx="491.7" cy="1507.8" r="8.8" fill="url(#og)"/>
<circle cx="486.5" cy="1517.2" r="8.8" fill="url(#og)"/>
<circle cx="507.3" cy="1521.2" r="8.8" fill="url(#og)"/>
<circle cx="507.3" cy="1521.5" r="8.8" fill="url(#og)"/>
<circle cx="538.5" cy="1528.4" r="8.8" fill="url(#og)"/>
<circle cx="632.1" cy="1562.8" r="8.8" fill="url(#og)"/>
</g>
<clipPath id="cle"><rect x="0" y="1163.4" width="1507" height="431.6"/></clipPath>
<path d="M273.2 1552.3 L273.7 1551.4 L274.3 1550.6 L274.8 1549.7 L275.3 1548.9 L275.8 1548.1 L276.4 1547.3 L276.7 1546.8 L276.9 1546.6 L277.4 1545.8 L278 1545 L278.5 1544.3 L279 1543.6 L279.5 1542.9 L280.1 1542.2 L280.3 1541.9 L280.6 1541.5 L281.1 1540.8 L281.7 1540.1 L282.2 1539.5 L282.7 1538.8 L283.2 1538.2 L283.8 1537.6 L283.8 1537.5 L284.3 1536.9 L284.8 1536.3 L285.4 1535.7 L285.9 1535.1 L286.4 1534.5 L286.9 1533.9 L287.3 1533.5 L287.5 1533.4 L288 1532.8 L288.5 1532.3 L289.1 1531.7 L289.6 1531.2 L290.1 1530.6 L290.6 1530.1 L290.9 1529.8 L291.2 1529.6 L291.7 1529 L292.2 1528.5 L292.8 1528 L293.3 1527.5 L293.8 1527 L294.3 1526.5 L294.4 1526.5 L294.9 1526 L295.4 1525.6 L295.9 1525.1 L296.5 1524.6 L297 1524.2 L297.5 1523.7 L298 1523.3 L298.1 1523.2 L298.6 1522.8 L299.1 1522.3 L299.6 1521.9 L300.2 1521.5 L300.7 1521 L301.2 1520.6 L301.5 1520.4 L301.8 1520.2 L302.3 1519.8 L302.8 1519.4 L303.3 1518.9 L303.9 1518.5 L304.4 1518.1 L305 1517.6 L308.6 1515.1 L312.1 1512.6 L315.7 1510.3 L319.2 1508.1 L322.7 1506 L326.3 1504 L329.8 1502.1 L333.3 1500.3 L336.9 1498.5 L340.4 1496.8 L344 1495.2 L347.5 1493.6 L351 1492.1 L354.6 1490.6 L358.1 1489.2 L361.6 1487.8 L365.2 1486.5 L368.7 1485.2 L372.3 1483.9 L375.8 1482.7 L379.3 1481.5 L382.9 1480.4 L386.4 1479.2 L389.9 1478.1 L393.5 1477.1 L397 1476 L400.6 1475 L404.1 1474 L407.6 1473 L411.2 1472.1 L414.7 1471.1 L418.2 1470.2 L421.8 1469.3 L425.3 1468.4 L428.9 1467.6 L432.4 1466.7 L435.9 1465.9 L439.5 1465.1 L443 1464.3 L446.6 1463.5 L450.1 1462.7 L453.6 1461.9 L457.2 1461.2 L460.7 1460.5 L464.2 1459.7 L467.8 1459 L471.3 1458.3 L474.9 1457.7 L478.4 1457 L481.9 1456.3 L485.5 1455.7 L489 1455 L492.5 1454.4 L496.1 1453.7 L499.6 1453.1 L503.2 1452.5 L506.7 1451.9 L510.2 1451.3 L513.8 1450.7 L517.3 1450.1 L520.8 1449.6 L524.4 1449 L527.9 1448.4 L531.5 1447.9 L535 1447.4 L538.5 1446.8 L542.1 1446.3 L545.6 1445.8 L549.1 1445.2 L552.7 1444.7 L556.2 1444.2 L559.8 1443.7 L563.3 1443.2 L566.8 1442.7 L570.4 1442.3 L573.9 1441.8 L577.5 1441.3 L581 1440.8 L584.5 1440.4 L588.1 1439.9 L591.6 1439.5 L595.1 1439 L598.7 1438.6 L602.2 1438.1 L605.8 1437.7 L609.3 1437.3 L612.8 1436.8 L616.4 1436.4 L619.9 1436 L623.4 1435.6 L627 1435.2 L630.5 1434.8 L634.1 1434.4 L637.6 1434 L641.1 1433.6 L644.7 1433.2 L648.2 1432.8 L651.7 1432.4 L655.3 1432 L658.8 1431.6 L662.4 1431.2 L665.9 1430.9 L669.4 1430.5 L673 1430.1 L676.5 1429.8 L680 1429.4 L683.6 1429.1 L687.1 1428.7 L690.7 1428.3 L694.2 1428" fill="none" stroke="#231f20" stroke-width="7.2" stroke-linecap="round" stroke-linejoin="round" clip-path="url(#cle)"/>
<path d="M281 1587.4 L281.5 1585.8 L282 1584.3 L282.6 1582.8 L283.1 1581.3 L283.6 1579.9 L284.2 1578.6 L284.3 1578.2 L284.7 1577.3 L285.2 1576 L285.7 1574.8 L286.3 1573.5 L286.8 1572.4 L287.3 1571.2 L287.6 1570.6 L287.9 1570.1 L288.4 1569 L288.9 1568 L289.4 1567 L290 1565.9 L290.5 1565 L291 1564.1 L291 1564 L291.6 1563.1 L292.1 1562.1 L292.6 1561.2 L293.1 1560.3 L293.7 1559.5 L294.2 1558.6 L294.3 1558.5 L294.7 1557.8 L295.3 1557 L295.8 1556.2 L296.3 1555.4 L296.8 1554.6 L297.4 1553.8 L297.6 1553.5 L297.9 1553.1 L298.4 1552.4 L299 1551.6 L299.5 1550.9 L300 1550.2 L300.6 1549.5 L301 1549 L301.1 1548.9 L301.6 1548.2 L302.1 1547.5 L302.7 1546.9 L303.2 1546.3 L303.7 1545.6 L304.3 1545 L304.3 1545 L304.8 1544.4 L305.3 1543.8 L305.8 1543.2 L306.4 1542.6 L306.9 1542 L307.4 1541.5 L307.6 1541.3 L308 1540.9 L308.5 1540.4 L309 1539.8 L309.5 1539.3 L310.1 1538.7 L310.6 1538.2 L311 1537.8 L311.1 1537.7 L311.7 1537.2 L312.2 1536.7 L314.3 1534.7 L317.6 1531.7 L321 1529 L324.3 1526.4 L327.6 1524 L331 1521.7 L334.3 1519.5 L337.6 1517.4 L340.9 1515.4 L344.3 1513.6 L347.6 1511.7 L350.9 1510 L354.3 1508.3 L357.6 1506.7 L360.9 1505.2 L364.3 1503.7 L367.6 1502.3 L370.9 1500.9 L374.3 1499.6 L377.6 1498.3 L380.9 1497 L384.3 1495.8 L387.6 1494.6 L390.9 1493.4 L394.2 1492.3 L397.6 1491.2 L400.9 1490.2 L404.2 1489.1 L407.6 1488.1 L410.9 1487.1 L414.2 1486.2 L417.6 1485.2 L420.9 1484.3 L424.2 1483.4 L427.6 1482.6 L430.9 1481.7 L434.2 1480.9 L437.6 1480 L440.9 1479.2 L444.2 1478.4 L447.5 1477.7 L450.9 1476.9 L454.2 1476.2 L457.5 1475.4 L460.9 1474.7 L464.2 1474 L467.5 1473.3 L470.9 1472.7 L474.2 1472 L477.5 1471.3 L480.9 1470.7 L484.2 1470.1 L487.5 1469.4 L490.9 1468.8 L494.2 1468.2 L497.5 1467.6 L500.8 1467.1 L504.2 1466.5 L507.5 1465.9 L510.8 1465.4 L514.2 1464.8 L517.5 1464.3 L520.8 1463.7 L524.2 1463.2 L527.5 1462.7 L530.8 1462.2 L534.2 1461.7 L537.5 1461.2 L540.8 1460.7 L544.2 1460.2 L547.5 1459.7 L550.8 1459.2 L554.1 1458.8 L557.5 1458.3 L560.8 1457.9 L564.1 1457.4 L567.5 1457 L570.8 1456.5 L574.1 1456.1 L577.5 1455.7 L580.8 1455.3 L584.1 1454.8 L587.5 1454.4 L590.8 1454 L594.1 1453.6 L597.5 1453.2 L600.8 1452.8 L604.1 1452.5 L607.4 1452.1 L610.8 1451.7 L614.1 1451.3 L617.4 1450.9 L620.8 1450.6 L624.1 1450.2 L627.4 1449.9 L630.8 1449.5 L634.1 1449.1 L637.4 1448.8 L640.8 1448.5 L644.1 1448.1 L647.4 1447.8 L650.8 1447.4 L654.1 1447.1 L657.4 1446.8 L660.7 1446.5 L664.1 1446.1 L667.4 1445.8 L670.7 1445.5 L674.1 1445.2 L677.4 1444.9" fill="none" stroke="#ee3e25" stroke-width="7.2" stroke-linecap="round" stroke-linejoin="round" clip-path="url(#cle)"/>
<path d="M238.7 1732.5 H292.9" stroke="#ee3e25" stroke-width="4.8" stroke-linecap="round"/>
<circle cx="265.8" cy="1732.5" r="14.3" fill="url(#og2)"/>
<path d="M495.6 1732.5 H549.8" stroke="#231f20" stroke-width="4.8" stroke-linecap="round"/>
<circle cx="522.5" cy="1732.5" r="14.3" fill="rgb(38,42,48)" fill-opacity="0.5"/>
<text transform="translate(314.5 1741.3) scale(0.964 1)" text-anchor="start">Positive</text>
<text transform="translate(573 1741.3) scale(0.964 1)" text-anchor="start">Negative</text>
</g></svg>
</body></html>
